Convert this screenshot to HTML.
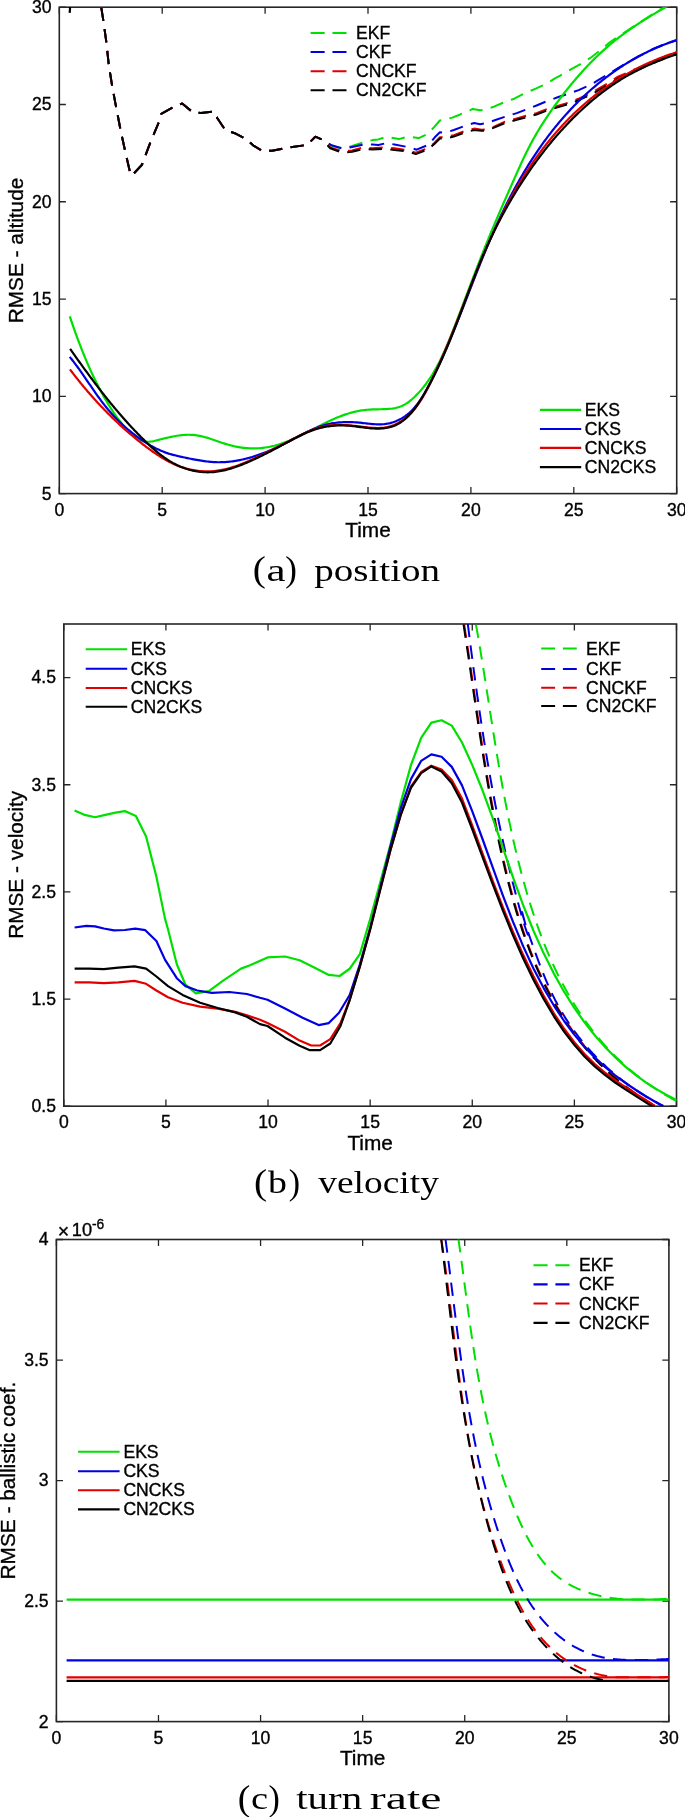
<!DOCTYPE html>
<html><head><meta charset="utf-8"><title>RMSE plots</title>
<style>
html,body{margin:0;padding:0;background:#fff;}
body{width:685px;height:1817px;overflow:hidden;}
svg{display:block;font-family:"Liberation Sans",sans-serif;will-change:transform;}
text{fill:#000;stroke:#000;stroke-width:0.35px;}
</style></head>
<body>
<svg width="685" height="1817" viewBox="0 0 685 1817">
<rect width="685" height="1817" fill="#fff"/>
<clipPath id="c1"><rect x="59.3" y="7.2" width="617.4" height="486.4"/></clipPath>
<path d="M59.3 493.6 V487 M59.3 7.2 V13.8 M162.2 493.6 V487 M162.2 7.2 V13.8 M265.1 493.6 V487 M265.1 7.2 V13.8 M368 493.6 V487 M368 7.2 V13.8 M470.9 493.6 V487 M470.9 7.2 V13.8 M573.8 493.6 V487 M573.8 7.2 V13.8 M676.7 493.6 V487 M676.7 7.2 V13.8 M59.3 493.6 H65.9 M676.7 493.6 H670.1 M59.3 396.32 H65.9 M676.7 396.32 H670.1 M59.3 299.04 H65.9 M676.7 299.04 H670.1 M59.3 201.76 H65.9 M676.7 201.76 H670.1 M59.3 104.48 H65.9 M676.7 104.48 H670.1 M59.3 7.2 H65.9 M676.7 7.2 H670.1 " stroke="#262626" stroke-width="1.3" fill="none"/>
<rect x="59.3" y="7.2" width="617.4" height="486.4" stroke="#262626" stroke-width="1.6" fill="none"/>
<text x="59.3" y="515.8" font-size="17.6" text-anchor="middle">0</text>
<text x="162.2" y="515.8" font-size="17.6" text-anchor="middle">5</text>
<text x="265.1" y="515.8" font-size="17.6" text-anchor="middle">10</text>
<text x="368" y="515.8" font-size="17.6" text-anchor="middle">15</text>
<text x="470.9" y="515.8" font-size="17.6" text-anchor="middle">20</text>
<text x="573.8" y="515.8" font-size="17.6" text-anchor="middle">25</text>
<text x="676.7" y="515.8" font-size="17.6" text-anchor="middle">30</text>
<text x="51.5" y="499.5" font-size="17.6" text-anchor="end">5</text>
<text x="51.5" y="402.22" font-size="17.6" text-anchor="end">10</text>
<text x="51.5" y="304.94" font-size="17.6" text-anchor="end">15</text>
<text x="51.5" y="207.66" font-size="17.6" text-anchor="end">20</text>
<text x="51.5" y="110.38" font-size="17.6" text-anchor="end">25</text>
<text x="51.5" y="13.1" font-size="17.6" text-anchor="end">30</text>
<text x="368" y="537.1" font-size="20.8" text-anchor="middle">Time</text>
<text transform="translate(23 250.5) rotate(-90)" font-size="20.8" text-anchor="middle">RMSE - altitude</text>
<g clip-path="url(#c1)">
<path d="M101.3 7.6 L103.4 21 L106.4 42.6 L108.7 64.2 L112.2 86.4 L116.3 108 L120.6 130.2 L125.3 151.8 L130.3 173.4 L131.8 175.6 L142 164.7 L150.1 143.1 L158.9 122 L161.2 113.9 L174 106.8 L182.2 103.5 L192.7 112.2 L200.9 112.9 L214.2 111.5 L217.2 118 L225.4 130.2 L234.7 133.2 L246.4 139.1 L253.4 145.6 L262.8 151.2 L272.1 150.7 L286.1 147.9 L307.2 144.9 L315.3 136.7 L322.6 139.9 L331.3 145.7 L339 147.4 L343.4 148.2 L352.1 146 L363.8 142.3 L372.6 140.1 L378.4 139.4 L386.4 136.8 L394.5 138.2 L398.8 139.1 L407.6 136.8 L416.4 137.7 L418.8 138.1 L427.5 134.1 L434.1 127.1 L439.9 120.5 L444.3 119.8 L452.3 117.6 L459.6 114.7 L464.7 112.5 L472.8 108.9 L480.1 110.3 L485.2 109.6 L493.9 106.7 L505 101.9 L514.2 98.7 L526 92.7 L535.2 88.8 L547 83.5 L554.9 78.3 L560.2 75.7 L566.7 71.6 L580 64.3 L591.7 57 L601.9 49 L609.2 42.8 L619.4 35.8 L641.5 21.3 L666 6 L672 2" stroke="#00e000" stroke-width="2" fill="none" stroke-linejoin="round" stroke-dasharray="13.4 8.4"/>
<path d="M101.3 7.6 L103.4 21 L106.4 42.6 L108.7 64.2 L112.2 86.4 L116.3 108 L120.6 130.2 L125.3 151.8 L130.3 173.4 L131.8 175.6 L142 164.7 L150.1 143.1 L158.9 122 L161.2 113.9 L174 106.8 L182.2 103.5 L192.7 112.2 L200.9 112.9 L214.2 111.5 L217.2 118 L225.4 130.2 L234.7 133.2 L246.4 139.1 L253.4 145.6 L262.8 151.2 L272.1 150.7 L286.1 147.9 L307.2 144.9 L315.3 136.7 L322.6 139.9 L331.7 145.3 L343.4 148.9 L352.1 147 L365.3 144.1 L372.6 144.5 L378.4 145 L386.4 143.1 L394.5 144.5 L407.6 147 L416.6 149.7 L429 144.6 L434.8 137.3 L439.9 132.2 L445 132.7 L453.8 130 L465.5 125.7 L474.2 123 L480.1 124.2 L486.6 123 L496.1 119.8 L505 116.8 L516.8 113.1 L528.7 108.5 L536.5 105.5 L548.4 100.6 L557.6 97.3 L569.4 93.4 L578.6 90.1 L590.4 84.9 L599 79.6 L609.2 73.8 L618 68 L628.2 62.1 L638.4 56.5 L653 49 L667.6 43.1 L677.5 40" stroke="#0000e0" stroke-width="2" fill="none" stroke-linejoin="round" stroke-dasharray="13.4 8.4"/>
<path d="M101.3 7.6 L103.4 21 L106.4 42.6 L108.7 64.2 L112.2 86.4 L116.3 108 L120.6 130.2 L125.3 151.8 L130.3 173.4 L131.8 175.6 L142 164.7 L150.1 143.1 L158.9 122 L161.2 113.9 L174 106.8 L182.2 103.5 L192.7 112.2 L200.9 112.9 L214.2 111.5 L217.2 118 L225.4 130.2 L234.7 133.2 L246.4 139.1 L253.4 145.6 L262.8 151.2 L272.1 150.7 L286.1 147.9 L307.2 144.9 L315.3 136.7 L322.6 139.9 L330.2 147.4 L341.9 151.1 L352.1 150.4 L363.8 147.4 L372.6 148.2 L384.2 147.4 L394.5 148.2 L407.6 150.4 L415.8 152.7 L427.5 148.3 L434.1 143.2 L439.9 137.3 L445 137.3 L453.8 135.1 L465.5 130.8 L474.2 128.6 L481.5 129.7 L486.6 129.3 L494.7 126.4 L505 121.6 L516.8 118.4 L528.7 115.1 L536.5 113.1 L548.4 108.5 L557.6 105.9 L570.7 101.9 L578.6 98.7 L590.4 93.4 L599 88.4 L609.2 82.6 L618 76.7 L628.2 72.3 L638.4 67.8 L653 61.4 L667.6 55.5 L677.5 51.8" stroke="#e00000" stroke-width="2" fill="none" stroke-linejoin="round" stroke-dasharray="13.4 8.4"/>
<path d="M101.3 7.6 L103.4 21 L106.4 42.6 L108.7 64.2 L112.2 86.4 L116.3 108 L120.6 130.2 L125.3 151.8 L130.3 173.4 L131.8 175.6 L142 164.7 L150.1 143.1 L158.9 122 L161.2 113.9 L174 106.8 L182.2 103.5 L192.7 112.2 L200.9 112.9 L214.2 111.5 L217.2 118 L225.4 130.2 L234.7 133.2 L246.4 139.1 L253.4 145.6 L262.8 151.2 L272.1 150.7 L286.1 147.9 L307.2 144.9 L315.3 136.7 L322.6 139.9 L330.2 148.2 L341.9 152.6 L352.1 151.8 L363.8 148.9 L372.6 149.6 L384.2 148.9 L394.5 149.9 L407.6 151.4 L415.8 154.1 L427.5 149.5 L434.1 144.3 L439.9 138.5 L445 138.5 L453.8 136.6 L465.5 132.2 L474.2 130 L481.5 130.8 L486.6 130.5 L494.7 127.4 L505 123 L516.8 119.8 L528.7 116.5 L536.5 114.5 L548.4 110 L557.6 107.4 L570.7 103.4 L578.6 100.2 L590.4 95 L599 90 L609.2 84.2 L618 78.5 L628.2 74 L638.4 69.5 L653 63 L667.6 57 L677.5 54" stroke="#000000" stroke-width="2" fill="none" stroke-linejoin="round" stroke-dasharray="13.4 8.4"/>
<path d="M69.75 316.3 L70.22 317.72 L70.7 319.13 L71.18 320.55 L71.66 321.96 L72.15 323.38 L72.64 324.79 L73.13 326.21 L73.62 327.62 L74.12 329.04 L74.62 330.45 L75.13 331.87 L75.64 333.28 L76.15 334.7 L76.66 336.11 L77.18 337.52 L77.71 338.93 L78.23 340.34 L78.76 341.75 L79.3 343.16 L79.84 344.57 L80.38 345.97 L80.92 347.38 L81.47 348.78 L82.03 350.18 L82.59 351.58 L83.15 352.98 L83.72 354.38 L84.29 355.77 L84.86 357.17 L85.44 358.56 L86.03 359.95 L86.61 361.33 L87.21 362.72 L87.81 364.1 L88.41 365.48 L89.02 366.86 L89.63 368.24 L90.25 369.61 L90.87 370.98 L91.5 372.35 L92.13 373.71 L92.77 375.07 L93.41 376.43 L94.06 377.79 L94.71 379.14 L95.37 380.49 L96.03 381.83 L96.7 383.18 L97.38 384.51 L98.06 385.85 L98.74 387.18 L99.44 388.51 L100.13 389.83 L100.84 391.15 L101.55 392.47 L102.26 393.78 L102.98 395.09 L103.71 396.4 L104.44 397.7 L105.18 398.99 L105.93 400.28 L106.68 401.57 L107.44 402.85 L108.21 404.13 L108.99 405.4 L109.77 406.67 L110.57 407.93 L111.37 409.19 L112.19 410.44 L113.02 411.69 L113.85 412.93 L114.71 414.16 L115.57 415.4 L116.45 416.62 L117.34 417.84 L118.24 419.06 L119.16 420.26 L120.1 421.47 L121.05 422.66 L122.02 423.85 L123.01 425.04 L124.02 426.22 L125.04 427.39 L126.08 428.56 L127.14 429.71 L128.23 430.86 L129.33 431.99 L130.45 433.09 L131.59 434.16 L132.75 435.19 L133.93 436.16 L135.13 437.08 L136.35 437.94 L137.59 438.72 L138.86 439.43 L140.14 440.05 L141.44 440.57 L142.75 441 L144.09 441.33 L145.44 441.57 L146.81 441.7 L148.19 441.73 L149.58 441.67 L150.98 441.53 L152.39 441.32 L153.81 441.05 L155.23 440.73 L156.67 440.38 L158.11 440.01 L159.56 439.64 L161.02 439.26 L162.48 438.89 L163.95 438.52 L165.42 438.16 L166.9 437.81 L168.38 437.47 L169.86 437.14 L171.34 436.82 L172.83 436.52 L174.32 436.23 L175.81 435.97 L177.31 435.72 L178.8 435.5 L180.29 435.3 L181.79 435.13 L183.28 434.99 L184.77 434.88 L186.26 434.8 L187.74 434.76 L189.22 434.75 L190.7 434.78 L192.18 434.85 L193.65 434.97 L195.12 435.12 L196.58 435.32 L198.03 435.55 L199.49 435.83 L200.94 436.13 L202.39 436.47 L203.83 436.83 L205.27 437.22 L206.71 437.63 L208.15 438.07 L209.59 438.52 L211.03 438.98 L212.47 439.46 L213.91 439.95 L215.34 440.44 L216.78 440.94 L218.22 441.44 L219.67 441.94 L221.11 442.43 L222.56 442.92 L224.01 443.4 L225.46 443.87 L226.92 444.32 L228.38 444.75 L229.84 445.17 L231.31 445.56 L232.79 445.93 L234.27 446.27 L235.75 446.59 L237.24 446.88 L238.73 447.15 L240.23 447.39 L241.73 447.61 L243.23 447.8 L244.73 447.96 L246.23 448.1 L247.73 448.21 L249.23 448.3 L250.74 448.36 L252.24 448.39 L253.74 448.4 L255.24 448.38 L256.73 448.33 L258.23 448.26 L259.72 448.17 L261.21 448.04 L262.69 447.89 L264.17 447.71 L265.64 447.5 L267.11 447.27 L268.57 447.01 L270.03 446.73 L271.48 446.42 L272.93 446.08 L274.37 445.73 L275.81 445.34 L277.24 444.94 L278.67 444.52 L280.09 444.07 L281.51 443.61 L282.92 443.13 L284.33 442.63 L285.73 442.11 L287.13 441.57 L288.53 441.02 L289.92 440.46 L291.3 439.88 L292.69 439.29 L294.06 438.68 L295.44 438.07 L296.81 437.44 L298.18 436.8 L299.54 436.16 L300.9 435.5 L302.26 434.84 L303.61 434.17 L304.96 433.49 L306.3 432.81 L307.65 432.12 L308.99 431.43 L310.33 430.74 L311.66 430.05 L313 429.35 L314.33 428.65 L315.66 427.96 L316.99 427.26 L318.33 426.57 L319.66 425.88 L320.99 425.19 L322.33 424.51 L323.66 423.83 L325 423.16 L326.34 422.5 L327.69 421.84 L329.03 421.19 L330.38 420.55 L331.74 419.93 L333.1 419.31 L334.46 418.7 L335.83 418.11 L337.21 417.53 L338.59 416.97 L339.97 416.42 L341.37 415.88 L342.77 415.37 L344.18 414.87 L345.59 414.39 L347.02 413.92 L348.45 413.48 L349.88 413.06 L351.32 412.65 L352.77 412.27 L354.23 411.91 L355.69 411.57 L357.15 411.26 L358.62 410.96 L360.1 410.69 L361.59 410.45 L363.07 410.23 L364.57 410.04 L366.07 409.87 L367.57 409.73 L369.08 409.62 L370.59 409.53 L372.11 409.46 L373.63 409.41 L375.15 409.37 L376.68 409.33 L378.21 409.3 L379.74 409.27 L381.27 409.24 L382.8 409.2 L384.33 409.15 L385.86 409.09 L387.38 409 L388.91 408.89 L390.42 408.75 L391.92 408.58 L393.41 408.36 L394.89 408.1 L396.34 407.79 L397.77 407.42 L399.18 406.99 L400.56 406.5 L401.91 405.94 L403.23 405.31 L404.52 404.62 L405.79 403.88 L407.03 403.09 L408.24 402.25 L409.43 401.36 L410.6 400.44 L411.74 399.48 L412.86 398.49 L413.97 397.48 L415.05 396.44 L416.11 395.38 L417.16 394.31 L418.19 393.23 L419.2 392.13 L420.19 391.02 L421.17 389.89 L422.13 388.76 L423.07 387.61 L424 386.45 L424.92 385.27 L425.82 384.09 L426.7 382.89 L427.57 381.69 L428.43 380.47 L429.27 379.24 L430.09 378.01 L430.91 376.76 L431.71 375.5 L432.5 374.24 L433.28 372.96 L434.04 371.68 L434.8 370.38 L435.54 369.08 L436.27 367.78 L436.99 366.46 L437.7 365.14 L438.4 363.81 L439.1 362.47 L439.78 361.13 L440.45 359.78 L441.11 358.42 L441.77 357.06 L442.41 355.7 L443.05 354.33 L443.68 352.95 L444.31 351.57 L444.93 350.19 L445.54 348.8 L446.14 347.41 L446.74 346.01 L447.33 344.61 L447.92 343.21 L448.5 341.81 L449.08 340.4 L449.65 338.99 L450.22 337.58 L450.79 336.17 L451.35 334.76 L451.91 333.35 L452.46 331.93 L453.02 330.52 L453.57 329.1 L454.12 327.69 L454.66 326.28 L455.21 324.86 L455.76 323.45 L456.3 322.04 L456.84 320.63 L457.38 319.22 L457.92 317.81 L458.46 316.4 L459 314.99 L459.54 313.58 L460.07 312.18 L460.61 310.77 L461.14 309.36 L461.67 307.96 L462.21 306.55 L462.74 305.15 L463.27 303.75 L463.8 302.34 L464.33 300.94 L464.86 299.54 L465.39 298.13 L465.92 296.73 L466.45 295.33 L466.98 293.93 L467.51 292.53 L468.04 291.13 L468.57 289.73 L469.09 288.33 L469.62 286.94 L470.15 285.54 L470.68 284.14 L471.21 282.74 L471.74 281.35 L472.27 279.95 L472.8 278.55 L473.33 277.16 L473.87 275.76 L474.4 274.37 L474.93 272.97 L475.47 271.58 L476 270.18 L476.54 268.79 L477.07 267.4 L477.61 266 L478.15 264.61 L478.69 263.22 L479.23 261.83 L479.77 260.43 L480.32 259.04 L480.86 257.65 L481.41 256.26 L481.95 254.87 L482.5 253.48 L483.05 252.09 L483.61 250.7 L484.16 249.31 L484.71 247.92 L485.27 246.53 L485.83 245.14 L486.39 243.75 L486.95 242.36 L487.52 240.97 L488.09 239.58 L488.65 238.19 L489.23 236.8 L489.8 235.41 L490.37 234.03 L490.95 232.64 L491.53 231.25 L492.11 229.86 L492.69 228.47 L493.27 227.09 L493.86 225.7 L494.45 224.31 L495.03 222.93 L495.62 221.54 L496.21 220.15 L496.81 218.77 L497.4 217.38 L497.99 216 L498.59 214.61 L499.19 213.23 L499.79 211.84 L500.38 210.46 L500.98 209.07 L501.59 207.69 L502.19 206.31 L502.79 204.92 L503.39 203.54 L504 202.16 L504.6 200.78 L505.21 199.39 L505.81 198.01 L506.42 196.63 L507.03 195.25 L507.63 193.87 L508.24 192.49 L508.85 191.11 L509.46 189.73 L510.06 188.35 L510.67 186.98 L511.28 185.6 L511.89 184.22 L512.5 182.85 L513.11 181.47 L513.71 180.09 L514.32 178.72 L514.93 177.34 L515.54 175.97 L516.15 174.6 L516.76 173.23 L517.37 171.85 L517.98 170.48 L518.59 169.12 L519.21 167.75 L519.83 166.38 L520.45 165.02 L521.07 163.66 L521.7 162.3 L522.33 160.94 L522.96 159.58 L523.6 158.23 L524.24 156.88 L524.89 155.53 L525.54 154.18 L526.2 152.84 L526.86 151.5 L527.53 150.16 L528.21 148.82 L528.89 147.49 L529.57 146.16 L530.27 144.84 L530.97 143.52 L531.68 142.2 L532.39 140.88 L533.11 139.57 L533.84 138.27 L534.58 136.96 L535.32 135.66 L536.07 134.36 L536.82 133.07 L537.58 131.78 L538.35 130.49 L539.12 129.21 L539.9 127.93 L540.69 126.65 L541.48 125.38 L542.28 124.11 L543.08 122.84 L543.89 121.58 L544.71 120.32 L545.53 119.06 L546.36 117.81 L547.19 116.56 L548.03 115.32 L548.87 114.07 L549.72 112.83 L550.57 111.6 L551.43 110.36 L552.3 109.13 L553.17 107.91 L554.04 106.69 L554.92 105.47 L555.8 104.25 L556.69 103.04 L557.58 101.83 L558.48 100.62 L559.38 99.42 L560.29 98.22 L561.2 97.02 L562.12 95.83 L563.04 94.64 L563.96 93.45 L564.89 92.27 L565.82 91.09 L566.76 89.91 L567.69 88.74 L568.64 87.57 L569.59 86.4 L570.54 85.23 L571.49 84.07 L572.45 82.92 L573.42 81.77 L574.38 80.62 L575.36 79.47 L576.33 78.33 L577.31 77.19 L578.3 76.06 L579.29 74.93 L580.28 73.81 L581.28 72.69 L582.29 71.57 L583.29 70.46 L584.31 69.36 L585.33 68.26 L586.35 67.16 L587.38 66.07 L588.41 64.98 L589.45 63.9 L590.49 62.83 L591.54 61.76 L592.59 60.69 L593.65 59.63 L594.71 58.58 L595.78 57.53 L596.86 56.49 L597.94 55.45 L599.03 54.42 L600.12 53.4 L601.21 52.38 L602.32 51.37 L603.43 50.36 L604.54 49.36 L605.66 48.37 L606.79 47.38 L607.92 46.41 L609.06 45.43 L610.2 44.47 L611.35 43.51 L612.51 42.56 L613.67 41.61 L614.84 40.67 L616.01 39.74 L617.19 38.82 L618.38 37.9 L619.57 36.98 L620.76 36.08 L621.96 35.17 L623.17 34.28 L624.38 33.39 L625.6 32.51 L626.81 31.63 L628.04 30.76 L629.27 29.89 L630.5 29.03 L631.74 28.17 L632.98 27.32 L634.22 26.48 L635.47 25.64 L636.72 24.8 L637.98 23.97 L639.24 23.15 L640.5 22.33 L641.77 21.51 L643.04 20.7 L644.31 19.89 L645.58 19.09 L646.86 18.29 L648.14 17.5 L649.42 16.71 L650.71 15.92 L652 15.14 L653.29 14.36 L654.58 13.59 L655.87 12.82 L657.17 12.05 L658.47 11.29 L659.77 10.53 L661.07 9.77 L662.37 9.02 L663.67 8.27 L664.98 7.52 L666.29 6.77 L667.59 6.03 L668.9 5.29 L670.21 4.56 L671.52 3.82 L672.83 3.09 L674.14 2.36 L675.45 1.64 L676.76 0.91 L678.07 0.19 L679.38 -0.53 L680.69 -1.25 L682.01 -1.96" stroke="#00e000" stroke-width="2.2" fill="none" stroke-linejoin="round"/>
<path d="M69.75 356.91 L70.71 358.09 L71.66 359.28 L72.6 360.47 L73.53 361.67 L74.45 362.87 L75.37 364.08 L76.27 365.29 L77.17 366.51 L78.06 367.73 L78.94 368.95 L79.81 370.17 L80.68 371.4 L81.55 372.63 L82.41 373.86 L83.27 375.1 L84.12 376.33 L84.97 377.57 L85.81 378.81 L86.66 380.04 L87.5 381.28 L88.35 382.52 L89.19 383.76 L90.03 384.99 L90.87 386.23 L91.72 387.46 L92.56 388.69 L93.41 389.92 L94.26 391.15 L95.12 392.38 L95.97 393.6 L96.84 394.82 L97.7 396.04 L98.58 397.25 L99.46 398.46 L100.34 399.66 L101.23 400.86 L102.13 402.05 L103.04 403.24 L103.96 404.42 L104.88 405.6 L105.82 406.77 L106.77 407.93 L107.72 409.09 L108.69 410.24 L109.67 411.38 L110.66 412.52 L111.66 413.65 L112.68 414.77 L113.71 415.88 L114.74 416.98 L115.79 418.07 L116.85 419.16 L117.92 420.23 L119 421.3 L120.09 422.35 L121.19 423.4 L122.3 424.44 L123.41 425.46 L124.54 426.48 L125.68 427.49 L126.82 428.48 L127.97 429.47 L129.13 430.44 L130.3 431.4 L131.48 432.36 L132.66 433.3 L133.85 434.22 L135.05 435.14 L136.25 436.04 L137.47 436.93 L138.68 437.81 L139.91 438.68 L141.14 439.53 L142.37 440.37 L143.61 441.2 L144.86 442.01 L146.11 442.81 L147.37 443.59 L148.63 444.36 L149.9 445.11 L151.18 445.85 L152.46 446.57 L153.75 447.26 L155.06 447.95 L156.37 448.61 L157.69 449.25 L159.01 449.87 L160.35 450.47 L161.7 451.04 L163.06 451.6 L164.43 452.13 L165.81 452.64 L167.21 453.12 L168.61 453.58 L170.03 454.01 L171.46 454.42 L172.9 454.82 L174.35 455.19 L175.81 455.55 L177.27 455.9 L178.74 456.24 L180.22 456.57 L181.7 456.89 L183.19 457.21 L184.68 457.52 L186.17 457.83 L187.67 458.15 L189.17 458.46 L190.67 458.76 L192.18 459.07 L193.68 459.36 L195.19 459.65 L196.7 459.93 L198.2 460.2 L199.71 460.45 L201.22 460.7 L202.73 460.93 L204.24 461.15 L205.75 461.35 L207.25 461.53 L208.76 461.7 L210.26 461.84 L211.77 461.96 L213.27 462.07 L214.77 462.14 L216.26 462.2 L217.76 462.23 L219.25 462.23 L220.74 462.22 L222.22 462.18 L223.71 462.12 L225.19 462.03 L226.67 461.93 L228.15 461.8 L229.62 461.66 L231.09 461.49 L232.56 461.3 L234.03 461.1 L235.49 460.87 L236.95 460.63 L238.41 460.36 L239.87 460.08 L241.32 459.78 L242.77 459.46 L244.22 459.13 L245.66 458.77 L247.11 458.41 L248.55 458.02 L249.98 457.62 L251.42 457.2 L252.85 456.77 L254.28 456.33 L255.7 455.87 L257.13 455.39 L258.55 454.9 L259.97 454.4 L261.38 453.89 L262.79 453.36 L264.2 452.82 L265.61 452.27 L267.01 451.71 L268.41 451.13 L269.81 450.55 L271.2 449.95 L272.59 449.35 L273.98 448.73 L275.37 448.11 L276.75 447.47 L278.13 446.83 L279.5 446.18 L280.88 445.52 L282.25 444.85 L283.61 444.18 L284.98 443.5 L286.34 442.81 L287.7 442.11 L289.05 441.42 L290.4 440.71 L291.75 440 L293.09 439.29 L294.44 438.57 L295.78 437.85 L297.12 437.14 L298.46 436.42 L299.8 435.71 L301.14 435.01 L302.48 434.31 L303.82 433.62 L305.17 432.94 L306.51 432.26 L307.86 431.6 L309.21 430.95 L310.56 430.32 L311.92 429.7 L313.29 429.1 L314.65 428.52 L316.03 427.96 L317.4 427.42 L318.79 426.9 L320.18 426.41 L321.58 425.94 L322.99 425.5 L324.4 425.09 L325.82 424.7 L327.26 424.35 L328.69 424.02 L330.14 423.72 L331.59 423.44 L333.05 423.2 L334.52 422.97 L335.99 422.78 L337.47 422.61 L338.95 422.46 L340.44 422.34 L341.93 422.24 L343.43 422.16 L344.93 422.11 L346.43 422.08 L347.94 422.07 L349.45 422.08 L350.96 422.12 L352.48 422.17 L354 422.24 L355.52 422.33 L357.04 422.45 L358.56 422.58 L360.08 422.72 L361.61 422.88 L363.13 423.05 L364.65 423.23 L366.17 423.41 L367.7 423.58 L369.22 423.75 L370.74 423.91 L372.25 424.05 L373.77 424.17 L375.28 424.27 L376.79 424.34 L378.3 424.38 L379.81 424.38 L381.31 424.35 L382.8 424.26 L384.29 424.13 L385.78 423.95 L387.26 423.71 L388.74 423.41 L390.2 423.07 L391.65 422.67 L393.08 422.23 L394.5 421.73 L395.89 421.2 L397.27 420.61 L398.61 419.99 L399.93 419.32 L401.22 418.62 L402.48 417.88 L403.7 417.1 L404.9 416.29 L406.07 415.44 L407.22 414.56 L408.33 413.65 L409.42 412.71 L410.49 411.73 L411.53 410.73 L412.55 409.7 L413.54 408.64 L414.51 407.56 L415.46 406.45 L416.4 405.32 L417.31 404.16 L418.2 402.99 L419.07 401.79 L419.93 400.58 L420.77 399.34 L421.6 398.09 L422.41 396.83 L423.2 395.55 L423.98 394.25 L424.75 392.95 L425.51 391.63 L426.26 390.3 L426.99 388.96 L427.72 387.61 L428.44 386.26 L429.15 384.9 L429.85 383.53 L430.54 382.16 L431.23 380.79 L431.92 379.42 L432.6 378.04 L433.28 376.67 L433.95 375.29 L434.62 373.91 L435.28 372.53 L435.94 371.15 L436.6 369.77 L437.25 368.39 L437.9 367.01 L438.54 365.63 L439.18 364.24 L439.82 362.86 L440.45 361.47 L441.09 360.09 L441.71 358.7 L442.34 357.31 L442.96 355.93 L443.57 354.54 L444.19 353.15 L444.8 351.76 L445.41 350.37 L446.01 348.98 L446.62 347.59 L447.22 346.2 L447.81 344.8 L448.41 343.41 L449 342.02 L449.59 340.62 L450.18 339.23 L450.76 337.84 L451.35 336.44 L451.93 335.05 L452.5 333.65 L453.08 332.25 L453.65 330.86 L454.23 329.46 L454.8 328.07 L455.36 326.67 L455.93 325.27 L456.5 323.87 L457.06 322.48 L457.62 321.08 L458.18 319.68 L458.74 318.28 L459.3 316.88 L459.85 315.49 L460.41 314.09 L460.96 312.69 L461.52 311.29 L462.07 309.89 L462.62 308.49 L463.17 307.09 L463.72 305.7 L464.27 304.3 L464.81 302.9 L465.36 301.5 L465.91 300.1 L466.45 298.7 L467 297.3 L467.55 295.91 L468.09 294.51 L468.64 293.11 L469.18 291.71 L469.72 290.32 L470.27 288.92 L470.81 287.52 L471.36 286.13 L471.9 284.73 L472.45 283.33 L473 281.94 L473.54 280.54 L474.09 279.15 L474.64 277.75 L475.18 276.36 L475.73 274.97 L476.28 273.57 L476.83 272.18 L477.38 270.79 L477.93 269.4 L478.49 268.01 L479.04 266.61 L479.6 265.22 L480.15 263.83 L480.71 262.45 L481.27 261.06 L481.83 259.67 L482.39 258.28 L482.95 256.9 L483.52 255.51 L484.09 254.12 L484.65 252.74 L485.22 251.36 L485.8 249.97 L486.37 248.59 L486.95 247.21 L487.53 245.83 L488.11 244.45 L488.69 243.07 L489.27 241.69 L489.86 240.32 L490.45 238.94 L491.04 237.56 L491.64 236.19 L492.24 234.82 L492.84 233.44 L493.44 232.07 L494.04 230.7 L494.65 229.33 L495.26 227.96 L495.88 226.6 L496.5 225.23 L497.12 223.87 L497.74 222.5 L498.37 221.14 L499 219.78 L499.63 218.42 L500.27 217.06 L500.91 215.7 L501.56 214.34 L502.21 212.99 L502.86 211.63 L503.51 210.28 L504.17 208.93 L504.84 207.58 L505.5 206.23 L506.17 204.88 L506.85 203.54 L507.53 202.19 L508.21 200.85 L508.89 199.51 L509.58 198.17 L510.28 196.84 L510.97 195.5 L511.68 194.17 L512.38 192.84 L513.09 191.51 L513.8 190.18 L514.52 188.86 L515.24 187.54 L515.97 186.22 L516.69 184.9 L517.43 183.58 L518.17 182.27 L518.91 180.96 L519.65 179.65 L520.4 178.34 L521.16 177.04 L521.91 175.74 L522.68 174.44 L523.44 173.14 L524.21 171.85 L524.99 170.56 L525.77 169.27 L526.55 167.99 L527.34 166.7 L528.13 165.42 L528.93 164.15 L529.73 162.87 L530.54 161.6 L531.35 160.34 L532.16 159.07 L532.98 157.81 L533.81 156.55 L534.64 155.3 L535.47 154.05 L536.31 152.8 L537.15 151.55 L538 150.31 L538.85 149.07 L539.7 147.84 L540.56 146.61 L541.43 145.38 L542.3 144.16 L543.18 142.94 L544.06 141.72 L544.94 140.51 L545.83 139.3 L546.73 138.09 L547.63 136.89 L548.53 135.69 L549.44 134.5 L550.36 133.31 L551.27 132.13 L552.2 130.94 L553.13 129.77 L554.06 128.59 L555 127.43 L555.95 126.26 L556.9 125.1 L557.85 123.95 L558.81 122.79 L559.78 121.65 L560.75 120.51 L561.72 119.37 L562.71 118.23 L563.69 117.11 L564.68 115.98 L565.68 114.86 L566.68 113.75 L567.69 112.64 L568.7 111.53 L569.72 110.43 L570.75 109.34 L571.77 108.25 L572.81 107.16 L573.85 106.08 L574.89 105.01 L575.95 103.94 L577 102.87 L578.07 101.81 L579.13 100.76 L580.21 99.71 L581.29 98.67 L582.37 97.63 L583.46 96.6 L584.56 95.57 L585.66 94.55 L586.77 93.53 L587.88 92.52 L589 91.52 L590.12 90.52 L591.25 89.53 L592.38 88.54 L593.52 87.56 L594.67 86.59 L595.82 85.62 L596.97 84.66 L598.13 83.7 L599.3 82.75 L600.47 81.81 L601.65 80.87 L602.83 79.94 L604.02 79.02 L605.21 78.1 L606.4 77.19 L607.61 76.29 L608.81 75.39 L610.02 74.5 L611.24 73.62 L612.46 72.74 L613.69 71.88 L614.92 71.02 L616.16 70.16 L617.4 69.31 L618.65 68.48 L619.9 67.64 L621.15 66.82 L622.41 66 L623.68 65.19 L624.95 64.39 L626.22 63.6 L627.5 62.81 L628.79 62.03 L630.08 61.26 L631.37 60.5 L632.67 59.74 L633.97 59 L635.28 58.26 L636.59 57.53 L637.9 56.81 L639.22 56.09 L640.55 55.39 L641.88 54.69 L643.21 54 L644.55 53.32 L645.89 52.65 L647.24 51.99 L648.59 51.34 L649.94 50.69 L651.3 50.06 L652.67 49.43 L654.03 48.81 L655.41 48.2 L656.78 47.6 L658.16 47.01 L659.54 46.43 L660.93 45.86 L662.32 45.3 L663.72 44.74 L665.12 44.2 L666.52 43.66 L667.93 43.14 L669.34 42.62 L670.76 42.12 L672.18 41.62 L673.6 41.14 L675.03 40.66 L676.46 40.2 L677.89 39.74" stroke="#0000e0" stroke-width="2.2" fill="none" stroke-linejoin="round"/>
<path d="M69.96 369.34 L70.87 370.55 L71.78 371.76 L72.7 372.96 L73.61 374.16 L74.54 375.35 L75.46 376.55 L76.39 377.73 L77.33 378.92 L78.27 380.1 L79.21 381.27 L80.15 382.45 L81.1 383.61 L82.06 384.78 L83.02 385.94 L83.98 387.1 L84.94 388.25 L85.91 389.4 L86.89 390.55 L87.86 391.69 L88.85 392.83 L89.83 393.96 L90.82 395.09 L91.82 396.22 L92.81 397.34 L93.81 398.46 L94.82 399.57 L95.83 400.68 L96.84 401.79 L97.86 402.89 L98.89 403.99 L99.91 405.08 L100.94 406.17 L101.98 407.26 L103.02 408.34 L104.06 409.42 L105.1 410.49 L106.16 411.56 L107.21 412.63 L108.27 413.69 L109.33 414.75 L110.4 415.8 L111.47 416.85 L112.55 417.9 L113.63 418.94 L114.71 419.98 L115.8 421.01 L116.89 422.04 L117.99 423.06 L119.09 424.08 L120.19 425.1 L121.3 426.11 L122.42 427.12 L123.54 428.12 L124.66 429.12 L125.78 430.12 L126.91 431.11 L128.05 432.09 L129.19 433.08 L130.33 434.05 L131.48 435.03 L132.63 436 L133.79 436.96 L134.95 437.92 L136.11 438.88 L137.28 439.83 L138.45 440.77 L139.63 441.72 L140.81 442.66 L142 443.59 L143.19 444.52 L144.38 445.44 L145.58 446.36 L146.79 447.28 L147.99 448.18 L149.21 449.09 L150.43 449.98 L151.65 450.86 L152.88 451.74 L154.12 452.6 L155.36 453.46 L156.61 454.3 L157.87 455.13 L159.13 455.95 L160.4 456.75 L161.67 457.54 L162.96 458.32 L164.25 459.08 L165.55 459.82 L166.86 460.55 L168.17 461.26 L169.5 461.95 L170.83 462.62 L172.17 463.27 L173.52 463.9 L174.88 464.51 L176.25 465.1 L177.63 465.66 L179.02 466.2 L180.42 466.72 L181.83 467.21 L183.25 467.67 L184.69 468.11 L186.13 468.53 L187.58 468.91 L189.04 469.27 L190.51 469.6 L191.99 469.9 L193.48 470.17 L194.97 470.42 L196.47 470.64 L197.97 470.83 L199.47 470.99 L200.98 471.12 L202.49 471.22 L204 471.3 L205.51 471.34 L207.02 471.36 L208.53 471.35 L210.04 471.31 L211.54 471.23 L213.04 471.13 L214.54 471 L216.03 470.84 L217.51 470.65 L218.99 470.43 L220.46 470.18 L221.93 469.91 L223.39 469.61 L224.85 469.29 L226.31 468.95 L227.76 468.58 L229.2 468.19 L230.64 467.78 L232.07 467.35 L233.5 466.9 L234.93 466.43 L236.35 465.95 L237.77 465.45 L239.18 464.93 L240.58 464.4 L241.99 463.85 L243.39 463.29 L244.78 462.72 L246.17 462.14 L247.56 461.54 L248.94 460.94 L250.32 460.33 L251.7 459.71 L253.07 459.09 L254.43 458.45 L255.8 457.82 L257.16 457.18 L258.51 456.53 L259.87 455.88 L261.22 455.23 L262.56 454.58 L263.91 453.92 L265.25 453.26 L266.59 452.6 L267.93 451.94 L269.26 451.27 L270.6 450.6 L271.93 449.92 L273.26 449.25 L274.6 448.57 L275.93 447.89 L277.26 447.2 L278.59 446.52 L279.92 445.83 L281.26 445.14 L282.59 444.44 L283.92 443.75 L285.26 443.05 L286.6 442.35 L287.94 441.64 L289.28 440.94 L290.63 440.23 L291.97 439.52 L293.32 438.81 L294.68 438.11 L296.03 437.4 L297.39 436.7 L298.75 436.01 L300.12 435.33 L301.49 434.65 L302.86 433.99 L304.23 433.34 L305.61 432.7 L307 432.08 L308.38 431.48 L309.78 430.89 L311.17 430.32 L312.57 429.78 L313.98 429.26 L315.39 428.76 L316.8 428.29 L318.22 427.85 L319.64 427.43 L321.07 427.05 L322.5 426.7 L323.94 426.38 L325.38 426.1 L326.83 425.85 L328.29 425.63 L329.74 425.45 L331.21 425.29 L332.68 425.17 L334.15 425.07 L335.63 425 L337.11 424.95 L338.59 424.93 L340.08 424.93 L341.58 424.95 L343.07 424.99 L344.57 425.05 L346.08 425.13 L347.59 425.22 L349.1 425.33 L350.61 425.46 L352.13 425.6 L353.65 425.75 L355.17 425.91 L356.7 426.08 L358.23 426.25 L359.76 426.44 L361.29 426.63 L362.83 426.82 L364.36 427 L365.89 427.18 L367.43 427.36 L368.96 427.51 L370.48 427.65 L372.01 427.78 L373.53 427.87 L375.04 427.94 L376.55 427.98 L378.05 427.99 L379.54 427.96 L381.03 427.89 L382.5 427.77 L383.97 427.6 L385.42 427.39 L386.86 427.12 L388.29 426.8 L389.71 426.42 L391.1 426 L392.49 425.53 L393.85 425.01 L395.19 424.45 L396.51 423.84 L397.81 423.2 L399.08 422.51 L400.32 421.79 L401.54 421.02 L402.73 420.23 L403.9 419.4 L405.04 418.53 L406.16 417.64 L407.25 416.71 L408.33 415.75 L409.37 414.76 L410.4 413.74 L411.4 412.7 L412.39 411.63 L413.35 410.53 L414.3 409.41 L415.22 408.27 L416.13 407.1 L417.02 405.92 L417.9 404.71 L418.75 403.48 L419.6 402.24 L420.42 400.98 L421.23 399.7 L422.03 398.41 L422.82 397.1 L423.59 395.78 L424.35 394.45 L425.1 393.1 L425.84 391.75 L426.57 390.39 L427.29 389.02 L428.01 387.64 L428.71 386.26 L429.4 384.88 L430.09 383.48 L430.78 382.09 L431.45 380.7 L432.13 379.3 L432.8 377.9 L433.46 376.51 L434.12 375.11 L434.77 373.71 L435.42 372.32 L436.07 370.92 L436.71 369.52 L437.35 368.13 L437.99 366.73 L438.62 365.33 L439.24 363.94 L439.87 362.54 L440.49 361.14 L441.1 359.74 L441.72 358.35 L442.33 356.95 L442.93 355.55 L443.54 354.16 L444.14 352.76 L444.73 351.36 L445.33 349.96 L445.92 348.57 L446.51 347.17 L447.09 345.77 L447.68 344.38 L448.26 342.98 L448.84 341.58 L449.41 340.19 L449.98 338.79 L450.56 337.39 L451.12 336 L451.69 334.6 L452.26 333.21 L452.82 331.81 L453.38 330.41 L453.94 329.02 L454.5 327.62 L455.05 326.23 L455.61 324.83 L456.16 323.44 L456.71 322.05 L457.26 320.65 L457.81 319.26 L458.36 317.86 L458.91 316.47 L459.46 315.08 L460 313.68 L460.55 312.29 L461.09 310.9 L461.63 309.51 L462.18 308.11 L462.72 306.72 L463.26 305.33 L463.8 303.94 L464.34 302.55 L464.88 301.16 L465.42 299.77 L465.97 298.38 L466.51 296.99 L467.05 295.6 L467.59 294.21 L468.13 292.82 L468.67 291.44 L469.22 290.05 L469.76 288.66 L470.3 287.28 L470.85 285.89 L471.39 284.5 L471.94 283.12 L472.49 281.73 L473.03 280.35 L473.58 278.96 L474.13 277.58 L474.68 276.2 L475.24 274.82 L475.79 273.43 L476.35 272.05 L476.91 270.67 L477.46 269.29 L478.03 267.91 L478.59 266.53 L479.15 265.15 L479.72 263.77 L480.29 262.4 L480.86 261.02 L481.43 259.64 L482.01 258.27 L482.58 256.89 L483.16 255.52 L483.75 254.14 L484.33 252.77 L484.92 251.4 L485.51 250.02 L486.1 248.65 L486.7 247.28 L487.3 245.91 L487.9 244.54 L488.51 243.17 L489.12 241.8 L489.73 240.44 L490.34 239.07 L490.96 237.7 L491.59 236.34 L492.21 234.97 L492.84 233.61 L493.47 232.25 L494.11 230.88 L494.75 229.52 L495.4 228.16 L496.04 226.8 L496.7 225.45 L497.35 224.09 L498.01 222.74 L498.67 221.38 L499.34 220.03 L500.01 218.68 L500.68 217.33 L501.36 215.98 L502.04 214.63 L502.73 213.29 L503.42 211.95 L504.11 210.61 L504.81 209.27 L505.51 207.93 L506.21 206.59 L506.92 205.26 L507.64 203.93 L508.35 202.6 L509.08 201.27 L509.8 199.94 L510.53 198.62 L511.26 197.3 L512 195.98 L512.75 194.66 L513.49 193.35 L514.24 192.03 L515 190.72 L515.76 189.42 L516.52 188.11 L517.29 186.81 L518.06 185.51 L518.84 184.22 L519.62 182.92 L520.4 181.63 L521.19 180.34 L521.99 179.06 L522.79 177.78 L523.59 176.5 L524.4 175.22 L525.21 173.95 L526.03 172.68 L526.85 171.41 L527.67 170.15 L528.5 168.89 L529.34 167.63 L530.18 166.38 L531.02 165.13 L531.87 163.89 L532.73 162.64 L533.59 161.4 L534.45 160.17 L535.32 158.94 L536.19 157.71 L537.07 156.49 L537.95 155.27 L538.84 154.05 L539.73 152.84 L540.63 151.63 L541.54 150.43 L542.44 149.23 L543.36 148.03 L544.27 146.84 L545.2 145.66 L546.13 144.47 L547.06 143.3 L548 142.12 L548.94 140.95 L549.89 139.79 L550.84 138.63 L551.8 137.47 L552.77 136.32 L553.74 135.18 L554.71 134.03 L555.69 132.9 L556.68 131.77 L557.67 130.64 L558.66 129.52 L559.66 128.4 L560.67 127.29 L561.68 126.19 L562.7 125.08 L563.72 123.99 L564.75 122.9 L565.79 121.81 L566.83 120.73 L567.87 119.66 L568.92 118.59 L569.98 117.53 L571.04 116.47 L572.11 115.42 L573.18 114.37 L574.26 113.33 L575.35 112.3 L576.44 111.27 L577.54 110.24 L578.64 109.23 L579.75 108.22 L580.86 107.21 L581.98 106.21 L583.11 105.22 L584.24 104.23 L585.37 103.25 L586.52 102.28 L587.66 101.31 L588.82 100.35 L589.97 99.4 L591.14 98.45 L592.31 97.5 L593.48 96.57 L594.66 95.64 L595.85 94.72 L597.04 93.8 L598.23 92.89 L599.44 91.99 L600.64 91.09 L601.85 90.2 L603.07 89.32 L604.29 88.44 L605.52 87.57 L606.75 86.71 L607.98 85.85 L609.22 85.01 L610.47 84.16 L611.72 83.33 L612.98 82.5 L614.24 81.68 L615.5 80.87 L616.77 80.06 L618.04 79.26 L619.32 78.47 L620.61 77.69 L621.89 76.91 L623.19 76.14 L624.48 75.38 L625.78 74.63 L627.09 73.88 L628.4 73.14 L629.71 72.41 L631.03 71.68 L632.35 70.97 L633.68 70.26 L635.01 69.56 L636.34 68.86 L637.68 68.18 L639.02 67.5 L640.37 66.83 L641.72 66.17 L643.07 65.51 L644.43 64.87 L645.79 64.23 L647.16 63.6 L648.53 62.97 L649.9 62.36 L651.28 61.75 L652.66 61.16 L654.04 60.57 L655.43 59.99 L656.82 59.41 L658.22 58.85 L659.62 58.29 L661.02 57.75 L662.42 57.21 L663.83 56.68 L665.24 56.15 L666.66 55.64 L668.08 55.14 L669.5 54.64 L670.92 54.15 L672.35 53.67 L673.78 53.2 L675.21 52.74 L676.65 52.29 L678.09 51.85" stroke="#e00000" stroke-width="2.2" fill="none" stroke-linejoin="round"/>
<path d="M70.15 348.98 L71.02 350.21 L71.89 351.44 L72.76 352.67 L73.63 353.9 L74.51 355.13 L75.38 356.36 L76.25 357.59 L77.13 358.82 L78 360.04 L78.88 361.26 L79.75 362.49 L80.63 363.71 L81.51 364.93 L82.39 366.15 L83.28 367.37 L84.16 368.58 L85.04 369.8 L85.93 371.01 L86.82 372.22 L87.71 373.43 L88.6 374.64 L89.49 375.85 L90.39 377.05 L91.29 378.26 L92.18 379.46 L93.08 380.66 L93.99 381.86 L94.89 383.06 L95.8 384.25 L96.71 385.45 L97.62 386.64 L98.53 387.83 L99.44 389.01 L100.36 390.2 L101.28 391.38 L102.2 392.56 L103.13 393.74 L104.06 394.92 L104.99 396.1 L105.92 397.27 L106.85 398.44 L107.79 399.61 L108.73 400.78 L109.68 401.94 L110.62 403.1 L111.57 404.26 L112.53 405.42 L113.48 406.57 L114.44 407.72 L115.4 408.87 L116.37 410.02 L117.34 411.16 L118.31 412.3 L119.29 413.44 L120.26 414.58 L121.25 415.71 L122.23 416.84 L123.22 417.97 L124.22 419.09 L125.21 420.21 L126.21 421.33 L127.22 422.45 L128.23 423.56 L129.24 424.67 L130.26 425.78 L131.28 426.88 L132.3 427.98 L133.33 429.08 L134.36 430.17 L135.4 431.26 L136.44 432.35 L137.49 433.43 L138.54 434.51 L139.59 435.59 L140.65 436.67 L141.72 437.74 L142.78 438.8 L143.86 439.87 L144.93 440.93 L146.02 441.98 L147.11 443.03 L148.2 444.07 L149.3 445.11 L150.41 446.14 L151.52 447.16 L152.65 448.17 L153.78 449.17 L154.92 450.16 L156.06 451.14 L157.22 452.1 L158.38 453.05 L159.56 453.99 L160.74 454.91 L161.94 455.82 L163.14 456.71 L164.36 457.58 L165.59 458.43 L166.82 459.27 L168.08 460.08 L169.34 460.88 L170.62 461.65 L171.91 462.4 L173.21 463.13 L174.53 463.83 L175.87 464.51 L177.21 465.17 L178.58 465.8 L179.95 466.4 L181.34 466.97 L182.74 467.52 L184.15 468.04 L185.57 468.53 L187.01 469 L188.45 469.43 L189.9 469.84 L191.35 470.21 L192.82 470.56 L194.29 470.87 L195.76 471.16 L197.25 471.41 L198.73 471.64 L200.22 471.83 L201.71 471.98 L203.2 472.11 L204.69 472.2 L206.18 472.26 L207.68 472.28 L209.17 472.27 L210.66 472.23 L212.14 472.15 L213.63 472.04 L215.11 471.89 L216.59 471.71 L218.06 471.51 L219.54 471.27 L221.01 471.01 L222.47 470.72 L223.94 470.4 L225.4 470.06 L226.85 469.69 L228.3 469.3 L229.75 468.89 L231.2 468.46 L232.64 468 L234.07 467.53 L235.5 467.05 L236.93 466.54 L238.35 466.02 L239.77 465.49 L241.18 464.94 L242.59 464.38 L243.99 463.81 L245.39 463.23 L246.79 462.64 L248.17 462.04 L249.55 461.43 L250.93 460.82 L252.3 460.2 L253.67 459.58 L255.03 458.95 L256.39 458.32 L257.74 457.67 L259.09 457.03 L260.44 456.38 L261.78 455.72 L263.12 455.06 L264.46 454.39 L265.8 453.72 L267.13 453.04 L268.46 452.36 L269.79 451.67 L271.12 450.98 L272.44 450.29 L273.77 449.59 L275.1 448.89 L276.42 448.18 L277.75 447.47 L279.07 446.76 L280.4 446.05 L281.73 445.33 L283.05 444.61 L284.38 443.88 L285.71 443.15 L287.05 442.43 L288.38 441.7 L289.72 440.98 L291.06 440.25 L292.4 439.53 L293.74 438.82 L295.09 438.12 L296.44 437.42 L297.79 436.73 L299.15 436.05 L300.5 435.39 L301.87 434.73 L303.23 434.09 L304.6 433.47 L305.98 432.86 L307.35 432.28 L308.74 431.71 L310.12 431.16 L311.52 430.63 L312.91 430.13 L314.31 429.65 L315.72 429.2 L317.13 428.77 L318.55 428.37 L319.97 428 L321.4 427.65 L322.83 427.33 L324.27 427.03 L325.71 426.76 L327.16 426.52 L328.61 426.3 L330.07 426.1 L331.53 425.93 L333 425.79 L334.47 425.67 L335.95 425.57 L337.43 425.5 L338.92 425.45 L340.42 425.43 L341.92 425.43 L343.42 425.45 L344.93 425.49 L346.44 425.56 L347.96 425.66 L349.48 425.77 L351.01 425.91 L352.55 426.07 L354.08 426.24 L355.62 426.43 L357.17 426.63 L358.71 426.83 L360.26 427.04 L361.8 427.25 L363.35 427.46 L364.89 427.66 L366.44 427.84 L367.98 428.02 L369.52 428.18 L371.05 428.32 L372.58 428.44 L374.11 428.52 L375.63 428.58 L377.15 428.61 L378.66 428.6 L380.16 428.55 L381.65 428.47 L383.12 428.34 L384.59 428.17 L386.03 427.96 L387.46 427.7 L388.88 427.4 L390.27 427.05 L391.64 426.65 L392.98 426.21 L394.3 425.71 L395.59 425.16 L396.85 424.56 L398.09 423.91 L399.3 423.21 L400.49 422.47 L401.66 421.69 L402.8 420.86 L403.91 419.99 L405.01 419.09 L406.09 418.14 L407.14 417.17 L408.17 416.15 L409.19 415.11 L410.18 414.03 L411.16 412.93 L412.12 411.8 L413.06 410.65 L413.99 409.47 L414.9 408.26 L415.8 407.04 L416.68 405.8 L417.55 404.54 L418.4 403.27 L419.25 401.98 L420.08 400.68 L420.9 399.37 L421.71 398.05 L422.51 396.72 L423.3 395.39 L424.08 394.05 L424.86 392.71 L425.62 391.37 L426.38 390.02 L427.14 388.68 L427.88 387.33 L428.62 385.98 L429.35 384.63 L430.08 383.28 L430.8 381.93 L431.51 380.57 L432.21 379.21 L432.91 377.85 L433.6 376.49 L434.29 375.13 L434.97 373.77 L435.65 372.4 L436.31 371.04 L436.98 369.67 L437.63 368.3 L438.29 366.93 L438.93 365.56 L439.58 364.19 L440.21 362.82 L440.84 361.44 L441.47 360.06 L442.09 358.69 L442.71 357.31 L443.32 355.93 L443.93 354.55 L444.53 353.17 L445.13 351.79 L445.73 350.4 L446.32 349.02 L446.91 347.63 L447.49 346.25 L448.07 344.86 L448.65 343.47 L449.22 342.09 L449.79 340.7 L450.36 339.31 L450.93 337.92 L451.49 336.52 L452.05 335.13 L452.6 333.74 L453.15 332.35 L453.7 330.95 L454.25 329.56 L454.8 328.17 L455.34 326.77 L455.88 325.38 L456.42 323.98 L456.96 322.58 L457.5 321.19 L458.03 319.79 L458.57 318.4 L459.1 317 L459.63 315.6 L460.16 314.2 L460.69 312.81 L461.22 311.41 L461.74 310.01 L462.27 308.61 L462.8 307.21 L463.32 305.82 L463.85 304.42 L464.37 303.02 L464.9 301.62 L465.42 300.23 L465.95 298.83 L466.47 297.43 L467 296.03 L467.52 294.64 L468.05 293.24 L468.58 291.85 L469.11 290.45 L469.63 289.05 L470.16 287.66 L470.7 286.26 L471.23 284.87 L471.76 283.48 L472.3 282.08 L472.84 280.69 L473.37 279.3 L473.92 277.91 L474.46 276.52 L475 275.13 L475.55 273.74 L476.1 272.35 L476.65 270.96 L477.21 269.57 L477.76 268.19 L478.32 266.8 L478.88 265.42 L479.45 264.03 L480.02 262.65 L480.59 261.27 L481.17 259.89 L481.74 258.51 L482.33 257.13 L482.91 255.75 L483.5 254.37 L484.1 253 L484.69 251.62 L485.29 250.25 L485.9 248.88 L486.51 247.51 L487.13 246.14 L487.74 244.77 L488.37 243.4 L489 242.04 L489.63 240.67 L490.27 239.31 L490.91 237.95 L491.55 236.59 L492.2 235.23 L492.86 233.88 L493.51 232.52 L494.18 231.17 L494.85 229.82 L495.52 228.47 L496.19 227.12 L496.87 225.78 L497.56 224.43 L498.25 223.09 L498.94 221.75 L499.64 220.41 L500.34 219.07 L501.04 217.74 L501.75 216.41 L502.47 215.08 L503.19 213.75 L503.91 212.42 L504.64 211.1 L505.37 209.78 L506.1 208.46 L506.84 207.14 L507.58 205.83 L508.33 204.52 L509.08 203.21 L509.84 201.9 L510.6 200.6 L511.36 199.29 L512.13 198 L512.9 196.7 L513.68 195.4 L514.46 194.11 L515.24 192.82 L516.03 191.54 L516.82 190.25 L517.62 188.97 L518.41 187.7 L519.22 186.42 L520.03 185.15 L520.84 183.88 L521.65 182.61 L522.47 181.35 L523.29 180.09 L524.12 178.83 L524.95 177.58 L525.79 176.33 L526.63 175.08 L527.47 173.84 L528.31 172.6 L529.16 171.36 L530.02 170.13 L530.88 168.9 L531.74 167.67 L532.6 166.45 L533.47 165.22 L534.34 164.01 L535.22 162.79 L536.1 161.58 L536.99 160.38 L537.88 159.17 L538.77 157.97 L539.67 156.78 L540.57 155.59 L541.47 154.4 L542.38 153.21 L543.3 152.03 L544.22 150.85 L545.14 149.68 L546.06 148.51 L547 147.34 L547.93 146.18 L548.87 145.02 L549.82 143.86 L550.77 142.71 L551.72 141.56 L552.68 140.41 L553.64 139.27 L554.61 138.14 L555.58 137 L556.56 135.87 L557.54 134.75 L558.53 133.62 L559.52 132.51 L560.51 131.39 L561.52 130.28 L562.52 129.17 L563.53 128.07 L564.55 126.97 L565.57 125.88 L566.6 124.79 L567.63 123.7 L568.67 122.62 L569.71 121.54 L570.75 120.46 L571.81 119.39 L572.86 118.33 L573.93 117.26 L574.99 116.21 L576.07 115.15 L577.15 114.1 L578.23 113.06 L579.32 112.02 L580.41 110.99 L581.51 109.96 L582.62 108.93 L583.73 107.92 L584.84 106.9 L585.96 105.9 L587.09 104.89 L588.22 103.9 L589.36 102.91 L590.5 101.93 L591.64 100.95 L592.79 99.98 L593.95 99.01 L595.11 98.05 L596.28 97.1 L597.45 96.16 L598.63 95.22 L599.81 94.29 L601 93.37 L602.2 92.45 L603.4 91.54 L604.6 90.64 L605.81 89.75 L607.02 88.87 L608.24 87.99 L609.47 87.12 L610.7 86.26 L611.93 85.4 L613.17 84.56 L614.42 83.72 L615.67 82.9 L616.93 82.08 L618.19 81.27 L619.45 80.47 L620.72 79.68 L622 78.9 L623.28 78.12 L624.57 77.36 L625.86 76.61 L627.16 75.86 L628.46 75.13 L629.77 74.4 L631.08 73.68 L632.4 72.98 L633.72 72.28 L635.05 71.59 L636.38 70.9 L637.71 70.23 L639.05 69.56 L640.39 68.91 L641.74 68.26 L643.09 67.61 L644.45 66.98 L645.81 66.35 L647.17 65.73 L648.54 65.12 L649.91 64.52 L651.29 63.92 L652.67 63.32 L654.05 62.74 L655.43 62.16 L656.82 61.59 L658.21 61.02 L659.61 60.46 L661 59.91 L662.41 59.36 L663.81 58.82 L665.22 58.28 L666.62 57.75 L668.04 57.22 L669.45 56.7 L670.87 56.19 L672.29 55.67 L673.71 55.17 L675.13 54.66 L676.56 54.17 L677.98 53.67" stroke="#000000" stroke-width="2.2" fill="none" stroke-linejoin="round"/>
</g>
<path d="M69.7 12.8 L70.1 7" stroke="#000" stroke-width="2.2"/>
<path d="M310.6 33 h14.05 M332.45 33 H346.5" stroke="#00e000" stroke-width="2.1"/>
<text x="356" y="39" font-size="17.6" text-anchor="start">EKF</text>
<path d="M310.6 52 h14.05 M332.45 52 H346.5" stroke="#0000e0" stroke-width="2.1"/>
<text x="356" y="58" font-size="17.6" text-anchor="start">CKF</text>
<path d="M310.6 71.2 h14.05 M332.45 71.2 H346.5" stroke="#e00000" stroke-width="2.1"/>
<text x="356" y="77.2" font-size="17.6" text-anchor="start">CNCKF</text>
<path d="M310.6 90.2 h14.05 M332.45 90.2 H346.5" stroke="#000000" stroke-width="2.1"/>
<text x="356" y="96.2" font-size="17.6" text-anchor="start">CN2CKF</text>
<path d="M539.9 409.9 H581.2" stroke="#00e000" stroke-width="2.1"/>
<text x="584.8" y="415.9" font-size="17.6" text-anchor="start">EKS</text>
<path d="M539.9 429 H581.2" stroke="#0000e0" stroke-width="2.1"/>
<text x="584.8" y="435" font-size="17.6" text-anchor="start">CKS</text>
<path d="M539.9 447.9 H581.2" stroke="#e00000" stroke-width="2.1"/>
<text x="584.8" y="453.9" font-size="17.6" text-anchor="start">CNCKS</text>
<path d="M539.9 467.1 H581.2" stroke="#000000" stroke-width="2.1"/>
<text x="584.8" y="473.1" font-size="17.6" text-anchor="start">CN2CKS</text>
<clipPath id="c2"><rect x="63.8" y="624" width="612.7" height="482.2"/></clipPath>
<path d="M63.8 1106.2 V1099.6 M63.8 624 V630.6 M165.92 1106.2 V1099.6 M165.92 624 V630.6 M268.03 1106.2 V1099.6 M268.03 624 V630.6 M370.15 1106.2 V1099.6 M370.15 624 V630.6 M472.27 1106.2 V1099.6 M472.27 624 V630.6 M574.38 1106.2 V1099.6 M574.38 624 V630.6 M676.5 1106.2 V1099.6 M676.5 624 V630.6 M63.8 1106.2 H70.4 M676.5 1106.2 H669.9 M63.8 999.04 H70.4 M676.5 999.04 H669.9 M63.8 891.89 H70.4 M676.5 891.89 H669.9 M63.8 784.73 H70.4 M676.5 784.73 H669.9 M63.8 677.58 H70.4 M676.5 677.58 H669.9 " stroke="#262626" stroke-width="1.3" fill="none"/>
<rect x="63.8" y="624" width="612.7" height="482.2" stroke="#262626" stroke-width="1.6" fill="none"/>
<text x="63.8" y="1128.4" font-size="17.6" text-anchor="middle">0</text>
<text x="165.92" y="1128.4" font-size="17.6" text-anchor="middle">5</text>
<text x="268.03" y="1128.4" font-size="17.6" text-anchor="middle">10</text>
<text x="370.15" y="1128.4" font-size="17.6" text-anchor="middle">15</text>
<text x="472.27" y="1128.4" font-size="17.6" text-anchor="middle">20</text>
<text x="574.38" y="1128.4" font-size="17.6" text-anchor="middle">25</text>
<text x="676.5" y="1128.4" font-size="17.6" text-anchor="middle">30</text>
<text x="56" y="1112.1" font-size="17.6" text-anchor="end">0.5</text>
<text x="56" y="1004.94" font-size="17.6" text-anchor="end">1.5</text>
<text x="56" y="897.79" font-size="17.6" text-anchor="end">2.5</text>
<text x="56" y="790.63" font-size="17.6" text-anchor="end">3.5</text>
<text x="56" y="683.48" font-size="17.6" text-anchor="end">4.5</text>
<text x="370.15" y="1149.7" font-size="20.8" text-anchor="middle">Time</text>
<text transform="translate(23 864.9) rotate(-90)" font-size="20.8" text-anchor="middle">RMSE - velocity</text>
<g clip-path="url(#c2)">
<path d="M476.01 624.82 L476.27 626.27 L476.52 627.71 L476.77 629.15 L477.03 630.6 L477.28 632.04 L477.53 633.49 L477.78 634.93 L478.03 636.38 L478.28 637.83 L478.53 639.28 L478.77 640.73 L479.02 642.18 L479.26 643.64 L479.51 645.09 L479.75 646.54 L479.99 648 L480.23 649.46 L480.48 650.91 L480.72 652.37 L480.96 653.83 L481.2 655.29 L481.43 656.75 L481.67 658.21 L481.91 659.67 L482.15 661.13 L482.38 662.6 L482.62 664.06 L482.85 665.53 L483.09 666.99 L483.32 668.46 L483.56 669.92 L483.79 671.39 L484.02 672.86 L484.26 674.33 L484.49 675.8 L484.72 677.27 L484.95 678.74 L485.19 680.21 L485.42 681.68 L485.65 683.16 L485.88 684.63 L486.11 686.11 L486.34 687.58 L486.57 689.06 L486.8 690.53 L487.03 692.01 L487.26 693.48 L487.49 694.96 L487.72 696.44 L487.95 697.92 L488.18 699.4 L488.41 700.88 L488.65 702.36 L488.88 703.84 L489.11 705.32 L489.34 706.8 L489.57 708.28 L489.8 709.76 L490.03 711.25 L490.26 712.73 L490.49 714.21 L490.73 715.7 L490.96 717.18 L491.19 718.67 L491.42 720.15 L491.66 721.64 L491.89 723.12 L492.13 724.61 L492.36 726.1 L492.6 727.58 L492.83 729.07 L493.07 730.56 L493.3 732.04 L493.54 733.53 L493.78 735.02 L494.02 736.51 L494.26 738 L494.5 739.49 L494.74 740.97 L494.98 742.46 L495.22 743.95 L495.46 745.44 L495.7 746.93 L495.95 748.42 L496.19 749.91 L496.44 751.4 L496.68 752.89 L496.93 754.38 L497.18 755.88 L497.43 757.37 L497.68 758.86 L497.93 760.35 L498.18 761.84 L498.43 763.33 L498.68 764.82 L498.94 766.31 L499.19 767.8 L499.45 769.3 L499.71 770.79 L499.97 772.28 L500.23 773.77 L500.49 775.26 L500.75 776.75 L501.01 778.24 L501.28 779.74 L501.54 781.23 L501.81 782.72 L502.08 784.21 L502.35 785.7 L502.62 787.19 L502.89 788.68 L503.17 790.17 L503.44 791.66 L503.72 793.15 L504 794.64 L504.28 796.13 L504.56 797.62 L504.84 799.11 L505.13 800.6 L505.41 802.09 L505.7 803.58 L505.99 805.07 L506.28 806.56 L506.57 808.05 L506.86 809.54 L507.16 811.02 L507.46 812.51 L507.76 814 L508.06 815.49 L508.36 816.97 L508.66 818.46 L508.97 819.95 L509.28 821.43 L509.59 822.92 L509.9 824.4 L510.21 825.89 L510.53 827.37 L510.84 828.86 L511.16 830.34 L511.49 831.82 L511.81 833.31 L512.13 834.79 L512.46 836.27 L512.79 837.75 L513.12 839.23 L513.46 840.71 L513.79 842.19 L514.13 843.67 L514.47 845.15 L514.82 846.63 L515.16 848.11 L515.51 849.59 L515.86 851.06 L516.21 852.54 L516.56 854.02 L516.92 855.49 L517.28 856.97 L517.64 858.44 L518 859.92 L518.37 861.39 L518.74 862.86 L519.11 864.33 L519.48 865.8 L519.86 867.28 L520.24 868.75 L520.62 870.21 L521 871.68 L521.39 873.15 L521.78 874.62 L522.17 876.09 L522.56 877.55 L522.96 879.02 L523.36 880.48 L523.76 881.94 L524.17 883.41 L524.58 884.87 L524.99 886.33 L525.4 887.79 L525.82 889.25 L526.24 890.71 L526.66 892.16 L527.09 893.62 L527.52 895.07 L527.95 896.52 L528.38 897.98 L528.82 899.43 L529.27 900.88 L529.71 902.33 L530.16 903.77 L530.61 905.22 L531.06 906.66 L531.52 908.1 L531.98 909.55 L532.45 910.99 L532.92 912.42 L533.39 913.86 L533.87 915.3 L534.34 916.73 L534.83 918.16 L535.31 919.59 L535.8 921.02 L536.3 922.45 L536.79 923.87 L537.29 925.29 L537.8 926.72 L538.31 928.13 L538.82 929.55 L539.34 930.97 L539.86 932.38 L540.38 933.79 L540.91 935.2 L541.44 936.61 L541.98 938.01 L542.52 939.42 L543.06 940.82 L543.61 942.22 L544.16 943.61 L544.72 945.01 L545.28 946.4 L545.84 947.79 L546.41 949.17 L546.99 950.56 L547.56 951.94 L548.15 953.32 L548.73 954.7 L549.32 956.07 L549.92 957.44 L550.52 958.81 L551.12 960.18 L551.73 961.54 L552.35 962.9 L552.96 964.26 L553.59 965.62 L554.21 966.97 L554.85 968.32 L555.48 969.67 L556.13 971.01 L556.77 972.35 L557.42 973.69 L558.08 975.02 L558.74 976.36 L559.41 977.69 L560.08 979.01 L560.75 980.33 L561.44 981.65 L562.12 982.97 L562.81 984.28 L563.51 985.59 L564.21 986.9 L564.92 988.2 L565.63 989.5 L566.35 990.8 L567.07 992.09 L567.8 993.38 L568.53 994.67 L569.27 995.95 L570.01 997.23 L570.76 998.5 L571.52 999.77 L572.28 1001.04 L573.04 1002.31 L573.81 1003.57 L574.59 1004.82 L575.37 1006.08 L576.16 1007.32 L576.96 1008.57 L577.76 1009.81 L578.56 1011.05 L579.37 1012.28 L580.19 1013.51 L581.01 1014.74 L581.84 1015.96 L582.68 1017.17 L583.52 1018.39 L584.36 1019.6 L585.22 1020.8 L586.07 1022 L586.94 1023.2 L587.81 1024.39 L588.69 1025.57 L589.57 1026.76 L590.46 1027.94 L591.35 1029.11 L592.26 1030.28 L593.16 1031.44 L594.08 1032.6 L595 1033.76 L595.93 1034.91 L596.86 1036.06 L597.8 1037.2 L598.75 1038.34 L599.7 1039.47 L600.66 1040.6 L601.62 1041.72 L602.6 1042.84 L603.58 1043.95 L604.56 1045.06 L605.55 1046.16 L606.55 1047.26 L607.56 1048.36 L608.57 1049.44 L609.59 1050.53 L610.62 1051.61 L611.65 1052.68 L612.69 1053.75 L613.74 1054.81 L614.79 1055.87 L615.86 1056.92 L616.92 1057.97 L618 1059.01 L619.08 1060.04 L620.17 1061.07 L621.27 1062.1 L622.37 1063.12 L623.48 1064.13 L624.6 1065.14 L625.73 1066.15 L626.86 1067.14 L628 1068.14 L629.15 1069.12 L630.31 1070.1 L631.47 1071.08 L632.64 1072.05 L633.82 1073.01 L635 1073.97 L636.19 1074.92 L637.39 1075.87 L638.6 1076.81 L639.82 1077.74 L641.04 1078.67 L642.27 1079.59 L643.51 1080.5 L644.76 1081.41 L646.01 1082.32 L647.28 1083.22 L648.55 1084.11 L649.83 1084.99 L651.11 1085.87 L652.41 1086.74 L653.71 1087.61 L655.02 1088.47 L656.34 1089.32 L657.66 1090.17 L659 1091.01 L660.34 1091.84 L661.69 1092.67 L663.05 1093.49 L664.42 1094.31 L665.8 1095.11 L667.18 1095.91 L668.57 1096.71 L669.97 1097.5 L671.38 1098.28 L672.8 1099.05 L674.23 1099.82 L675.66 1100.58 L677.11 1101.33 L678.56 1102.08" stroke="#00e000" stroke-width="2" fill="none" stroke-linejoin="round" stroke-dasharray="13.4 8.4"/>
<path d="M467.79 623.87 L467.98 625.37 L468.17 626.88 L468.36 628.39 L468.55 629.89 L468.74 631.4 L468.93 632.9 L469.12 634.41 L469.31 635.91 L469.5 637.42 L469.69 638.92 L469.88 640.42 L470.08 641.93 L470.27 643.43 L470.46 644.93 L470.65 646.43 L470.85 647.93 L471.04 649.43 L471.24 650.93 L471.43 652.43 L471.63 653.93 L471.82 655.43 L472.02 656.93 L472.21 658.43 L472.41 659.93 L472.61 661.42 L472.81 662.92 L473 664.42 L473.2 665.91 L473.4 667.41 L473.6 668.91 L473.8 670.4 L474 671.9 L474.21 673.39 L474.41 674.88 L474.61 676.38 L474.81 677.87 L475.02 679.37 L475.22 680.86 L475.43 682.35 L475.63 683.84 L475.84 685.33 L476.05 686.83 L476.26 688.32 L476.46 689.81 L476.67 691.3 L476.88 692.79 L477.09 694.28 L477.3 695.77 L477.52 697.26 L477.73 698.75 L477.94 700.24 L478.16 701.73 L478.37 703.21 L478.59 704.7 L478.8 706.19 L479.02 707.68 L479.24 709.16 L479.46 710.65 L479.67 712.14 L479.89 713.62 L480.12 715.11 L480.34 716.6 L480.56 718.08 L480.78 719.57 L481.01 721.05 L481.23 722.54 L481.46 724.02 L481.69 725.51 L481.91 726.99 L482.14 728.47 L482.37 729.96 L482.6 731.44 L482.83 732.93 L483.07 734.41 L483.3 735.89 L483.53 737.37 L483.77 738.86 L484.01 740.34 L484.24 741.82 L484.48 743.3 L484.72 744.78 L484.96 746.27 L485.2 747.75 L485.44 749.23 L485.69 750.71 L485.93 752.19 L486.18 753.67 L486.42 755.15 L486.67 756.63 L486.92 758.11 L487.17 759.59 L487.42 761.07 L487.67 762.55 L487.92 764.03 L488.18 765.51 L488.43 766.99 L488.69 768.47 L488.95 769.94 L489.21 771.42 L489.47 772.9 L489.73 774.38 L489.99 775.86 L490.25 777.34 L490.52 778.82 L490.79 780.29 L491.05 781.77 L491.32 783.25 L491.59 784.73 L491.86 786.2 L492.13 787.68 L492.41 789.16 L492.68 790.64 L492.96 792.11 L493.24 793.59 L493.52 795.07 L493.8 796.54 L494.08 798.02 L494.36 799.5 L494.64 800.97 L494.93 802.45 L495.22 803.93 L495.51 805.4 L495.8 806.88 L496.09 808.36 L496.38 809.83 L496.67 811.31 L496.97 812.78 L497.27 814.26 L497.56 815.74 L497.86 817.21 L498.17 818.69 L498.47 820.16 L498.77 821.64 L499.08 823.12 L499.39 824.59 L499.69 826.07 L500 827.54 L500.32 829.02 L500.63 830.49 L500.94 831.97 L501.26 833.45 L501.58 834.92 L501.9 836.4 L502.22 837.87 L502.54 839.35 L502.87 840.83 L503.19 842.3 L503.52 843.78 L503.85 845.25 L504.18 846.73 L504.51 848.21 L504.85 849.68 L505.18 851.16 L505.52 852.63 L505.86 854.11 L506.2 855.59 L506.55 857.06 L506.89 858.54 L507.24 860.01 L507.58 861.49 L507.93 862.97 L508.29 864.44 L508.64 865.92 L508.99 867.4 L509.35 868.87 L509.71 870.35 L510.07 871.83 L510.43 873.3 L510.8 874.78 L511.16 876.26 L511.53 877.74 L511.9 879.21 L512.27 880.69 L512.64 882.17 L513.02 883.65 L513.4 885.12 L513.78 886.6 L514.16 888.08 L514.54 889.56 L514.92 891.03 L515.31 892.51 L515.7 893.99 L516.09 895.47 L516.48 896.95 L516.88 898.43 L517.27 899.91 L517.67 901.39 L518.07 902.87 L518.48 904.34 L518.88 905.82 L519.29 907.3 L519.7 908.78 L520.11 910.26 L520.52 911.74 L520.94 913.21 L521.36 914.68 L521.79 916.15 L522.22 917.61 L522.65 919.07 L523.09 920.53 L523.53 921.98 L523.97 923.43 L524.42 924.87 L524.88 926.3 L525.34 927.72 L525.8 929.09 L526.23 930.39 L526.64 931.59 L527.01 932.64 L527.34 933.51 L527.6 934.18 L527.8 934.61 L527.91 934.77 L527.94 934.63 L527.89 934.22 L527.76 933.56 L527.56 932.68 L527.31 931.6 L527 930.35 L526.65 928.96 L526.26 927.45 L525.84 925.84 L525.4 924.17 L524.94 922.45 L524.47 920.71 L524 918.98 L523.54 917.29 L523.09 915.65 L522.66 914.1 L522.26 912.66 L521.89 911.35 L521.57 910.21 L521.29 909.25 L521.07 908.5 L520.92 907.99 L520.84 907.75 L520.83 907.78 L520.9 908.08 L521.03 908.63 L521.23 909.39 L521.48 910.35 L521.78 911.47 L522.13 912.75 L522.52 914.16 L522.94 915.67 L523.39 917.25 L523.87 918.9 L524.36 920.58 L524.86 922.26 L525.37 923.94 L525.89 925.58 L526.4 927.17 L526.91 928.73 L527.42 930.25 L527.92 931.74 L528.43 933.21 L528.94 934.66 L529.44 936.1 L529.95 937.53 L530.45 938.96 L530.96 940.39 L531.47 941.82 L531.97 943.25 L532.48 944.68 L532.99 946.11 L533.5 947.54 L534.01 948.97 L534.52 950.4 L535.03 951.82 L535.55 953.25 L536.06 954.67 L536.58 956.09 L537.11 957.52 L537.63 958.94 L538.16 960.35 L538.69 961.77 L539.22 963.19 L539.75 964.6 L540.29 966.01 L540.84 967.42 L541.38 968.83 L541.93 970.24 L542.49 971.64 L543.05 973.04 L543.61 974.44 L544.18 975.84 L544.75 977.23 L545.33 978.62 L545.91 980.01 L546.5 981.39 L547.09 982.78 L547.69 984.16 L548.29 985.53 L548.9 986.9 L549.52 988.27 L550.15 989.64 L550.78 991 L551.41 992.36 L552.06 993.72 L552.71 995.07 L553.36 996.42 L554.03 997.76 L554.7 999.1 L555.38 1000.43 L556.07 1001.77 L556.77 1003.09 L557.48 1004.41 L558.19 1005.73 L558.91 1007.04 L559.64 1008.35 L560.38 1009.66 L561.13 1010.95 L561.89 1012.25 L562.66 1013.54 L563.43 1014.82 L564.21 1016.1 L565 1017.38 L565.8 1018.64 L566.61 1019.91 L567.43 1021.17 L568.25 1022.42 L569.09 1023.67 L569.93 1024.91 L570.78 1026.15 L571.63 1027.38 L572.5 1028.61 L573.37 1029.83 L574.25 1031.05 L575.14 1032.26 L576.04 1033.47 L576.94 1034.67 L577.85 1035.86 L578.77 1037.05 L579.7 1038.23 L580.63 1039.41 L581.58 1040.58 L582.53 1041.75 L583.48 1042.91 L584.45 1044.06 L585.42 1045.21 L586.4 1046.35 L587.39 1047.49 L588.38 1048.62 L589.38 1049.74 L590.39 1050.86 L591.4 1051.97 L592.42 1053.08 L593.45 1054.18 L594.49 1055.27 L595.53 1056.36 L596.58 1057.44 L597.64 1058.51 L598.7 1059.58 L599.77 1060.64 L600.84 1061.69 L601.93 1062.74 L603.02 1063.78 L604.11 1064.82 L605.21 1065.85 L606.32 1066.87 L607.44 1067.88 L608.56 1068.89 L609.68 1069.89 L610.82 1070.89 L611.96 1071.87 L613.1 1072.85 L614.25 1073.83 L615.41 1074.79 L616.58 1075.75 L617.75 1076.7 L618.92 1077.65 L620.1 1078.59 L621.29 1079.52 L622.48 1080.44 L623.68 1081.36 L624.88 1082.26 L626.09 1083.16 L627.31 1084.06 L628.53 1084.94 L629.75 1085.82 L630.98 1086.69 L632.22 1087.56 L633.46 1088.41 L634.71 1089.26 L635.96 1090.1 L637.22 1090.93 L638.48 1091.76 L639.75 1092.58 L641.02 1093.39 L642.29 1094.19 L643.58 1094.98 L644.86 1095.76 L646.15 1096.54 L647.45 1097.31 L648.75 1098.07 L650.06 1098.82 L651.37 1099.57 L652.68 1100.31 L654 1101.03 L655.33 1101.75 L656.65 1102.47 L657.99 1103.17 L659.32 1103.86 L660.66 1104.55 L662.01 1105.23 L663.36 1105.9" stroke="#0000e0" stroke-width="2" fill="none" stroke-linejoin="round" stroke-dasharray="13.4 8.4"/>
<path d="M464.13 624.29 L464.35 625.76 L464.58 627.23 L464.81 628.69 L465.03 630.16 L465.26 631.63 L465.48 633.1 L465.7 634.57 L465.93 636.04 L466.15 637.51 L466.37 638.98 L466.59 640.45 L466.82 641.92 L467.04 643.39 L467.26 644.86 L467.48 646.33 L467.7 647.8 L467.92 649.28 L468.13 650.75 L468.35 652.22 L468.57 653.7 L468.79 655.17 L469.01 656.65 L469.22 658.12 L469.44 659.6 L469.66 661.07 L469.88 662.55 L470.09 664.02 L470.31 665.5 L470.52 666.98 L470.74 668.45 L470.96 669.93 L471.17 671.41 L471.39 672.89 L471.6 674.36 L471.82 675.84 L472.03 677.32 L472.25 678.8 L472.46 680.28 L472.68 681.76 L472.9 683.24 L473.11 684.72 L473.33 686.2 L473.54 687.68 L473.76 689.16 L473.97 690.64 L474.19 692.12 L474.41 693.61 L474.62 695.09 L474.84 696.57 L475.05 698.05 L475.27 699.53 L475.49 701.02 L475.7 702.5 L475.92 703.98 L476.14 705.47 L476.36 706.95 L476.58 708.43 L476.79 709.92 L477.01 711.4 L477.23 712.89 L477.45 714.37 L477.67 715.86 L477.89 717.34 L478.11 718.82 L478.34 720.31 L478.56 721.79 L478.78 723.28 L479 724.77 L479.23 726.25 L479.45 727.74 L479.67 729.22 L479.9 730.71 L480.12 732.19 L480.35 733.68 L480.58 735.17 L480.8 736.65 L481.03 738.14 L481.26 739.63 L481.49 741.11 L481.72 742.6 L481.95 744.09 L482.18 745.57 L482.41 747.06 L482.65 748.55 L482.88 750.03 L483.11 751.52 L483.35 753.01 L483.59 754.49 L483.82 755.98 L484.06 757.47 L484.3 758.96 L484.54 760.44 L484.78 761.93 L485.02 763.42 L485.26 764.91 L485.51 766.39 L485.75 767.88 L486 769.37 L486.24 770.85 L486.49 772.34 L486.74 773.83 L486.99 775.32 L487.24 776.8 L487.49 778.29 L487.74 779.78 L488 781.27 L488.25 782.75 L488.51 784.24 L488.76 785.73 L489.02 787.21 L489.28 788.7 L489.54 790.19 L489.81 791.67 L490.07 793.16 L490.33 794.65 L490.6 796.13 L490.87 797.62 L491.14 799.11 L491.41 800.59 L491.68 802.08 L491.95 803.56 L492.22 805.05 L492.5 806.54 L492.78 808.02 L493.06 809.51 L493.34 810.99 L493.62 812.48 L493.9 813.96 L494.19 815.45 L494.47 816.93 L494.76 818.42 L495.05 819.9 L495.34 821.39 L495.63 822.87 L495.93 824.36 L496.22 825.84 L496.52 827.32 L496.82 828.81 L497.12 830.29 L497.42 831.77 L497.72 833.26 L498.03 834.74 L498.34 836.22 L498.65 837.7 L498.96 839.19 L499.27 840.67 L499.59 842.15 L499.9 843.63 L500.22 845.11 L500.54 846.59 L500.86 848.07 L501.19 849.55 L501.51 851.03 L501.84 852.51 L502.17 853.99 L502.5 855.47 L502.84 856.95 L503.17 858.43 L503.51 859.91 L503.85 861.39 L504.2 862.86 L504.54 864.34 L504.89 865.82 L505.24 867.29 L505.59 868.77 L505.94 870.24 L506.3 871.72 L506.66 873.19 L507.02 874.67 L507.38 876.14 L507.75 877.61 L508.11 879.08 L508.48 880.55 L508.86 882.02 L509.23 883.49 L509.61 884.96 L509.99 886.42 L510.38 887.89 L510.77 889.35 L511.16 890.82 L511.55 892.28 L511.94 893.74 L512.34 895.2 L512.74 896.66 L513.15 898.12 L513.55 899.58 L513.96 901.03 L514.38 902.49 L514.79 903.94 L515.21 905.4 L515.64 906.85 L516.06 908.3 L516.49 909.74 L516.92 911.19 L517.36 912.64 L517.8 914.08 L518.24 915.52 L518.69 916.96 L519.14 918.4 L519.59 919.84 L520.05 921.28 L520.51 922.71 L520.97 924.15 L521.44 925.58 L521.91 927.01 L522.38 928.43 L522.86 929.86 L523.34 931.28 L523.83 932.71 L524.32 934.13 L524.81 935.55 L525.31 936.96 L525.81 938.38 L526.31 939.79 L526.82 941.2 L527.33 942.61 L527.85 944.02 L528.37 945.42 L528.9 946.82 L529.43 948.22 L529.96 949.62 L530.5 951.02 L531.04 952.41 L531.59 953.8 L532.14 955.19 L532.69 956.58 L533.25 957.96 L533.82 959.34 L534.38 960.72 L534.96 962.1 L535.53 963.47 L536.12 964.84 L536.7 966.21 L537.29 967.58 L537.89 968.94 L538.49 970.3 L539.1 971.66 L539.7 973.02 L540.32 974.37 L540.94 975.72 L541.56 977.07 L542.19 978.42 L542.83 979.76 L543.47 981.1 L544.11 982.43 L544.76 983.77 L545.41 985.1 L546.07 986.42 L546.74 987.75 L547.41 989.07 L548.08 990.39 L548.76 991.7 L549.45 993.01 L550.14 994.32 L550.83 995.63 L551.54 996.93 L552.24 998.23 L552.95 999.52 L553.67 1000.82 L554.4 1002.11 L555.12 1003.39 L555.86 1004.67 L556.6 1005.95 L557.34 1007.23 L558.1 1008.5 L558.85 1009.77 L559.62 1011.03 L560.38 1012.29 L561.16 1013.55 L561.94 1014.8 L562.72 1016.05 L563.52 1017.3 L564.31 1018.54 L565.12 1019.78 L565.93 1021.02 L566.74 1022.25 L567.57 1023.48 L568.39 1024.7 L569.23 1025.92 L570.07 1027.13 L570.91 1028.35 L571.77 1029.55 L572.63 1030.76 L573.49 1031.96 L574.36 1033.15 L575.24 1034.34 L576.13 1035.53 L577.02 1036.71 L577.92 1037.89 L578.82 1039.07 L579.73 1040.24 L580.65 1041.4 L581.57 1042.56 L582.5 1043.72 L583.44 1044.88 L584.38 1046.02 L585.33 1047.17 L586.29 1048.31 L587.26 1049.44 L588.23 1050.57 L589.2 1051.7 L590.19 1052.82 L591.18 1053.94 L592.18 1055.05 L593.19 1056.16 L594.2 1057.26 L595.22 1058.36 L596.25 1059.45 L597.28 1060.54 L598.32 1061.62 L599.37 1062.7 L600.43 1063.77 L601.49 1064.84 L602.56 1065.91 L603.64 1066.96 L604.73 1068.02 L605.82 1069.07 L606.92 1070.11 L608.03 1071.15 L609.14 1072.18 L610.27 1073.21 L611.4 1074.23 L612.54 1075.25 L613.68 1076.27 L614.84 1077.27 L616 1078.27 L617.17 1079.27 L618.34 1080.26 L619.53 1081.25 L620.72 1082.23 L621.92 1083.2 L623.13 1084.17 L624.35 1085.14 L625.57 1086.1 L626.8 1087.05 L628.04 1088 L629.29 1088.94 L630.55 1089.87 L631.82 1090.8 L633.09 1091.73 L634.37 1092.65 L635.66 1093.56 L636.96 1094.47 L638.26 1095.37 L639.58 1096.27 L640.9 1097.16 L642.23 1098.04 L643.57 1098.92 L644.92 1099.79 L646.28 1100.65 L647.65 1101.51 L649.02 1102.37 L650.4 1103.22 L651.8 1104.06 L653.2 1104.89 L654.61 1105.72 L656.03 1106.54" stroke="#e00000" stroke-width="2" fill="none" stroke-linejoin="round" stroke-dasharray="13.4 8.4"/>
<path d="M463.53 624.49 L463.75 625.96 L463.98 627.43 L464.21 628.89 L464.43 630.36 L464.66 631.83 L464.88 633.3 L465.1 634.77 L465.33 636.24 L465.55 637.71 L465.77 639.18 L465.99 640.65 L466.22 642.12 L466.44 643.59 L466.66 645.06 L466.88 646.53 L467.1 648 L467.32 649.48 L467.53 650.95 L467.75 652.42 L467.97 653.9 L468.19 655.37 L468.41 656.85 L468.62 658.32 L468.84 659.8 L469.06 661.27 L469.28 662.75 L469.49 664.22 L469.71 665.7 L469.92 667.18 L470.14 668.65 L470.36 670.13 L470.57 671.61 L470.79 673.09 L471 674.56 L471.22 676.04 L471.43 677.52 L471.65 679 L471.86 680.48 L472.08 681.96 L472.3 683.44 L472.51 684.92 L472.73 686.4 L472.94 687.88 L473.16 689.36 L473.37 690.84 L473.59 692.32 L473.81 693.81 L474.02 695.29 L474.24 696.77 L474.45 698.25 L474.67 699.73 L474.89 701.22 L475.1 702.7 L475.32 704.18 L475.54 705.67 L475.76 707.15 L475.98 708.63 L476.19 710.12 L476.41 711.6 L476.63 713.09 L476.85 714.57 L477.07 716.06 L477.29 717.54 L477.51 719.02 L477.74 720.51 L477.96 721.99 L478.18 723.48 L478.4 724.97 L478.63 726.45 L478.85 727.94 L479.07 729.42 L479.3 730.91 L479.52 732.39 L479.75 733.88 L479.98 735.37 L480.2 736.85 L480.43 738.34 L480.66 739.83 L480.89 741.31 L481.12 742.8 L481.35 744.29 L481.58 745.77 L481.81 747.26 L482.05 748.75 L482.28 750.23 L482.51 751.72 L482.75 753.21 L482.99 754.69 L483.22 756.18 L483.46 757.67 L483.7 759.16 L483.94 760.64 L484.18 762.13 L484.42 763.62 L484.66 765.11 L484.91 766.59 L485.15 768.08 L485.4 769.57 L485.64 771.05 L485.89 772.54 L486.14 774.03 L486.39 775.52 L486.64 777 L486.89 778.49 L487.14 779.98 L487.4 781.47 L487.65 782.95 L487.91 784.44 L488.16 785.93 L488.42 787.41 L488.68 788.9 L488.94 790.39 L489.21 791.87 L489.47 793.36 L489.73 794.85 L490 796.33 L490.27 797.82 L490.54 799.31 L490.81 800.79 L491.08 802.28 L491.35 803.76 L491.62 805.25 L491.9 806.74 L492.18 808.22 L492.46 809.71 L492.74 811.19 L493.02 812.68 L493.3 814.16 L493.59 815.65 L493.87 817.13 L494.16 818.62 L494.45 820.1 L494.74 821.59 L495.03 823.07 L495.33 824.56 L495.62 826.04 L495.92 827.52 L496.22 829.01 L496.52 830.49 L496.82 831.97 L497.12 833.46 L497.43 834.94 L497.74 836.42 L498.05 837.9 L498.36 839.39 L498.67 840.87 L498.99 842.35 L499.3 843.83 L499.62 845.31 L499.94 846.79 L500.26 848.27 L500.59 849.75 L500.91 851.23 L501.24 852.71 L501.57 854.19 L501.9 855.67 L502.24 857.15 L502.57 858.63 L502.91 860.11 L503.25 861.59 L503.6 863.06 L503.94 864.54 L504.29 866.02 L504.64 867.49 L504.99 868.97 L505.34 870.44 L505.7 871.92 L506.06 873.39 L506.42 874.87 L506.78 876.34 L507.15 877.81 L507.51 879.28 L507.88 880.75 L508.26 882.22 L508.63 883.69 L509.01 885.16 L509.39 886.62 L509.78 888.09 L510.17 889.55 L510.56 891.02 L510.95 892.48 L511.34 893.94 L511.74 895.4 L512.14 896.86 L512.55 898.32 L512.95 899.78 L513.36 901.23 L513.78 902.69 L514.19 904.14 L514.61 905.6 L515.04 907.05 L515.46 908.5 L515.89 909.94 L516.32 911.39 L516.76 912.84 L517.2 914.28 L517.64 915.72 L518.09 917.16 L518.54 918.6 L518.99 920.04 L519.45 921.48 L519.91 922.91 L520.37 924.35 L520.84 925.78 L521.31 927.21 L521.78 928.63 L522.26 930.06 L522.74 931.48 L523.23 932.91 L523.72 934.33 L524.21 935.75 L524.71 937.16 L525.21 938.58 L525.71 939.99 L526.22 941.4 L526.73 942.81 L527.25 944.22 L527.77 945.62 L528.3 947.02 L528.83 948.42 L529.36 949.82 L529.9 951.22 L530.44 952.61 L530.99 954 L531.54 955.39 L532.09 956.78 L532.65 958.16 L533.22 959.54 L533.78 960.92 L534.36 962.3 L534.93 963.67 L535.52 965.04 L536.1 966.41 L536.69 967.78 L537.29 969.14 L537.89 970.5 L538.5 971.86 L539.1 973.22 L539.72 974.57 L540.34 975.92 L540.96 977.27 L541.59 978.62 L542.23 979.96 L542.87 981.3 L543.51 982.63 L544.16 983.97 L544.81 985.3 L545.47 986.62 L546.14 987.95 L546.81 989.27 L547.48 990.59 L548.16 991.9 L548.85 993.21 L549.54 994.52 L550.23 995.83 L550.94 997.13 L551.64 998.43 L552.35 999.72 L553.07 1001.02 L553.8 1002.31 L554.52 1003.59 L555.26 1004.87 L556 1006.15 L556.74 1007.43 L557.5 1008.7 L558.25 1009.97 L559.02 1011.23 L559.78 1012.49 L560.56 1013.75 L561.34 1015 L562.12 1016.25 L562.92 1017.5 L563.71 1018.74 L564.52 1019.98 L565.33 1021.22 L566.14 1022.45 L566.97 1023.68 L567.79 1024.9 L568.63 1026.12 L569.47 1027.33 L570.31 1028.55 L571.17 1029.75 L572.03 1030.96 L572.89 1032.16 L573.76 1033.35 L574.64 1034.54 L575.53 1035.73 L576.42 1036.91 L577.32 1038.09 L578.22 1039.27 L579.13 1040.44 L580.05 1041.6 L580.97 1042.76 L581.9 1043.92 L582.84 1045.08 L583.78 1046.22 L584.73 1047.37 L585.69 1048.51 L586.66 1049.64 L587.63 1050.77 L588.6 1051.9 L589.59 1053.02 L590.58 1054.14 L591.58 1055.25 L592.59 1056.36 L593.6 1057.46 L594.62 1058.56 L595.65 1059.65 L596.68 1060.74 L597.72 1061.82 L598.77 1062.9 L599.83 1063.97 L600.89 1065.04 L601.96 1066.11 L603.04 1067.16 L604.13 1068.22 L605.22 1069.27 L606.32 1070.31 L607.43 1071.35 L608.54 1072.38 L609.67 1073.41 L610.8 1074.43 L611.94 1075.45 L613.08 1076.47 L614.24 1077.47 L615.4 1078.47 L616.57 1079.47 L617.74 1080.46 L618.93 1081.45 L620.12 1082.43 L621.32 1083.4 L622.53 1084.37 L623.75 1085.34 L624.97 1086.3 L626.2 1087.25 L627.44 1088.2 L628.69 1089.14 L629.95 1090.07 L631.22 1091 L632.49 1091.93 L633.77 1092.85 L635.06 1093.76 L636.36 1094.67 L637.66 1095.57 L638.98 1096.47 L640.3 1097.36 L641.63 1098.24 L642.97 1099.12 L644.32 1099.99 L645.68 1100.85 L647.05 1101.71 L648.42 1102.57 L649.8 1103.42 L651.2 1104.26 L652.6 1105.09 L654.01 1105.92 L655.43 1106.74" stroke="#000000" stroke-width="2" fill="none" stroke-linejoin="round" stroke-dasharray="13.4 8.4"/>
<path d="M74.6 810.5 L84.8 814.9 L95 817.2 L105.3 814.9 L115.5 812.6 L124.8 811.1 L135.9 816.1 L146.1 836.5 L156.4 876.8 L165.1 919.1 L168 929.2 L176.8 964.2 L185.5 984.7 L195.8 993.4 L208.9 991.1 L223.5 980.3 L241 968.6 L250 965.3 L267.5 957.4 L285 956.5 L299.6 960.3 L314.2 967.6 L328.8 974.9 L339.6 976 L349.68 968.75 L359.89 954.07 L370.1 919.2 L380.31 882 L390.52 844.28 L400.73 802.58 L410.94 765.14 L421.15 737.84 L431.36 722.66 L441.57 720.27 L451.78 725.61 L461.99 742.52 L472.2 764.85 L482.41 790.01 L492.62 817.93 L502.83 847.67 L513.04 877.43 L523.25 905.42 L533.46 930.72 L543.67 953.37 L553.88 973.61 L564.09 991.69 L574.3 1007.85 L584.51 1022.32 L594.72 1035.27 L604.93 1046.88 L615.14 1057.28 L625.35 1066.58 L635.56 1074.9 L645.77 1082.32 L655.98 1088.91 L666.19 1094.75 L676.4 1099.9 L678.23 1100.75" stroke="#00e000" stroke-width="2.2" fill="none" stroke-linejoin="round"/>
<path d="M74.6 927.5 L86.3 925.8 L95 926.4 L103.8 928.5 L114 930.3 L124.8 930 L135.3 928.6 L145.3 930.2 L156.4 941 L165.1 959.9 L176.8 978.2 L185.5 986.1 L197.2 990.5 L211.8 992.8 L229.3 992 L246.9 994 L260 997.8 L267.5 999.7 L285 1008.5 L302.6 1017.8 L318.6 1025.1 L328.8 1023.1 L339 1012.8 L349.68 994.99 L359.89 964.34 L370.1 927.94 L380.31 887.33 L390.52 845.98 L400.73 808.4 L410.94 779.11 L421.15 760.92 L431.36 754.37 L441.57 756.76 L451.78 766.88 L461.99 785.39 L472.2 811.12 L482.41 838.75 L492.62 867.24 L502.83 895.34 L513.04 921.94 L523.25 946.39 L533.46 968.44 L543.67 988.11 L553.88 1005.55 L564.09 1020.99 L574.3 1034.64 L584.51 1046.73 L594.72 1057.42 L604.93 1066.89 L615.14 1075.27 L625.35 1082.82 L635.56 1089.75 L645.77 1096.2 L655.98 1102.29 L662.98 1106.31" stroke="#0000e0" stroke-width="2.2" fill="none" stroke-linejoin="round"/>
<path d="M74.6 982.3 L89.2 982.3 L103.8 983.2 L118.4 982.3 L134.5 980.9 L146.1 983.8 L156.4 990.5 L168 997.2 L182.6 1002.8 L200.1 1006.6 L217.7 1008.6 L235.2 1011.8 L246.9 1015.3 L260 1019.7 L267.5 1023.1 L285 1031.8 L299.6 1040.6 L311.3 1045.5 L320.1 1045.5 L330.3 1039.1 L340.5 1023.1 L349.68 999.77 L359.89 966.34 L370.1 929.35 L380.31 889.26 L390.52 850.03 L400.73 814.86 L410.94 786.67 L421.15 772.01 L431.36 765.73 L441.57 769.56 L451.78 780.04 L461.99 798.64 L472.2 825.32 L482.41 853.07 L492.62 880.55 L502.83 907.03 L513.04 931.96 L523.25 955.08 L533.46 976.32 L543.67 995.77 L553.88 1013.28 L564.09 1028.75 L574.3 1042.26 L584.51 1053.96 L594.72 1064.03 L604.93 1072.66 L615.14 1080.21 L625.35 1087.1 L635.56 1093.63 L645.77 1100.05 L654.03 1105.34" stroke="#e00000" stroke-width="2.2" fill="none" stroke-linejoin="round"/>
<path d="M74.6 968.6 L89.2 968.6 L103.8 969.2 L118.4 967.7 L134.5 966.3 L146.1 968.6 L156.4 976.5 L168 986.1 L182.6 994.9 L200.1 1002.8 L217.7 1008 L235.2 1012.4 L246.9 1016.8 L260 1024.1 L267.5 1026 L285 1037.7 L299.6 1045.8 L309.9 1050.2 L320.1 1050.2 L330.3 1043.5 L340.5 1026 L349.68 1000.14 L359.89 966.32 L370.1 929.69 L380.31 889.23 L390.52 849.66 L400.73 814.87 L410.94 787.75 L421.15 773.13 L431.36 766.41 L441.57 771.47 L451.78 783.16 L461.99 802.51 L472.2 829.01 L482.41 856.54 L492.62 883.95 L502.83 910.43 L513.04 935.38 L523.25 958.49 L533.46 979.67 L543.67 998.98 L553.88 1016.29 L564.09 1031.56 L574.3 1044.89 L584.51 1056.44 L594.72 1066.4 L604.93 1074.97 L615.14 1082.5 L625.35 1089.39 L635.56 1095.92 L645.77 1102.31 L653.33 1107.1" stroke="#000000" stroke-width="2.2" fill="none" stroke-linejoin="round"/>
</g>
<path d="M85.7 649.2 H127.2" stroke="#00e000" stroke-width="2.1"/>
<text x="130.8" y="655.2" font-size="17.6" text-anchor="start">EKS</text>
<path d="M85.7 668.8 H127.2" stroke="#0000e0" stroke-width="2.1"/>
<text x="130.8" y="674.8" font-size="17.6" text-anchor="start">CKS</text>
<path d="M85.7 688 H127.2" stroke="#e00000" stroke-width="2.1"/>
<text x="130.8" y="694" font-size="17.6" text-anchor="start">CNCKS</text>
<path d="M85.7 706.7 H127.2" stroke="#000000" stroke-width="2.1"/>
<text x="130.8" y="712.7" font-size="17.6" text-anchor="start">CN2CKS</text>
<path d="M541.2 648.5 h13.9 M562.9 648.5 H576.8" stroke="#00e000" stroke-width="2.1"/>
<text x="586.1" y="654.5" font-size="17.6" text-anchor="start">EKF</text>
<path d="M541.2 669 h13.9 M562.9 669 H576.8" stroke="#0000e0" stroke-width="2.1"/>
<text x="586.1" y="675" font-size="17.6" text-anchor="start">CKF</text>
<path d="M541.2 687.7 h13.9 M562.9 687.7 H576.8" stroke="#e00000" stroke-width="2.1"/>
<text x="586.1" y="693.7" font-size="17.6" text-anchor="start">CNCKF</text>
<path d="M541.2 706 h13.9 M562.9 706 H576.8" stroke="#000000" stroke-width="2.1"/>
<text x="586.1" y="712" font-size="17.6" text-anchor="start">CN2CKF</text>
<clipPath id="c3"><rect x="56.4" y="1239.5" width="612.5" height="482.1"/></clipPath>
<path d="M56.4 1721.6 V1715 M56.4 1239.5 V1246.1 M158.48 1721.6 V1715 M158.48 1239.5 V1246.1 M260.57 1721.6 V1715 M260.57 1239.5 V1246.1 M362.65 1721.6 V1715 M362.65 1239.5 V1246.1 M464.73 1721.6 V1715 M464.73 1239.5 V1246.1 M566.82 1721.6 V1715 M566.82 1239.5 V1246.1 M668.9 1721.6 V1715 M668.9 1239.5 V1246.1 M56.4 1721.6 H63 M668.9 1721.6 H662.3 M56.4 1601.07 H63 M668.9 1601.07 H662.3 M56.4 1480.55 H63 M668.9 1480.55 H662.3 M56.4 1360.03 H63 M668.9 1360.03 H662.3 M56.4 1239.5 H63 M668.9 1239.5 H662.3 " stroke="#262626" stroke-width="1.3" fill="none"/>
<rect x="56.4" y="1239.5" width="612.5" height="482.1" stroke="#262626" stroke-width="1.6" fill="none"/>
<text x="56.4" y="1743.8" font-size="17.6" text-anchor="middle">0</text>
<text x="158.48" y="1743.8" font-size="17.6" text-anchor="middle">5</text>
<text x="260.57" y="1743.8" font-size="17.6" text-anchor="middle">10</text>
<text x="362.65" y="1743.8" font-size="17.6" text-anchor="middle">15</text>
<text x="464.73" y="1743.8" font-size="17.6" text-anchor="middle">20</text>
<text x="566.82" y="1743.8" font-size="17.6" text-anchor="middle">25</text>
<text x="668.9" y="1743.8" font-size="17.6" text-anchor="middle">30</text>
<text x="48.6" y="1727.5" font-size="17.6" text-anchor="end">2</text>
<text x="48.6" y="1606.97" font-size="17.6" text-anchor="end">2.5</text>
<text x="48.6" y="1486.45" font-size="17.6" text-anchor="end">3</text>
<text x="48.6" y="1365.93" font-size="17.6" text-anchor="end">3.5</text>
<text x="48.6" y="1245.4" font-size="17.6" text-anchor="end">4</text>
<text x="362.65" y="1765.1" font-size="20.8" text-anchor="middle">Time</text>
<text transform="translate(15 1480.6) rotate(-90)" font-size="20.8" text-anchor="middle">RMSE - ballistic coef.</text>
<text x="57.8" y="1237.8" font-size="19.6" text-anchor="start">×</text>
<text x="71.8" y="1236" font-size="18.2" text-anchor="start">10</text>
<text x="92" y="1228.6" font-size="13.8" text-anchor="start">-6</text>
<g clip-path="url(#c3)">
<path d="M66.6 1599.6 H668.9" stroke="#00e000" stroke-width="2.2" fill="none" stroke-linejoin="round"/>
<path d="M66.6 1660.3 H668.9" stroke="#0000e0" stroke-width="2.2" fill="none" stroke-linejoin="round"/>
<path d="M66.6 1677.3 H668.9" stroke="#e00000" stroke-width="2.2" fill="none" stroke-linejoin="round"/>
<path d="M66.6 1680.8 H668.9" stroke="#000000" stroke-width="2.2" fill="none" stroke-linejoin="round"/>
<path d="M458.47 1239.21 L458.68 1240.73 L458.9 1242.24 L459.11 1243.76 L459.32 1245.27 L459.53 1246.78 L459.74 1248.29 L459.95 1249.81 L460.16 1251.32 L460.37 1252.83 L460.57 1254.34 L460.78 1255.85 L460.98 1257.36 L461.19 1258.87 L461.39 1260.38 L461.6 1261.89 L461.8 1263.4 L462 1264.91 L462.21 1266.41 L462.41 1267.92 L462.61 1269.43 L462.81 1270.94 L463.01 1272.44 L463.21 1273.95 L463.41 1275.45 L463.61 1276.96 L463.81 1278.46 L464.01 1279.97 L464.21 1281.47 L464.41 1282.98 L464.61 1284.48 L464.81 1285.98 L465.01 1287.48 L465.21 1288.99 L465.41 1290.49 L465.61 1291.99 L465.81 1293.49 L466.01 1294.99 L466.21 1296.49 L466.41 1297.99 L466.61 1299.49 L466.82 1300.99 L467.02 1302.48 L467.22 1303.98 L467.42 1305.48 L467.62 1306.98 L467.83 1308.47 L468.03 1309.97 L468.24 1311.46 L468.44 1312.96 L468.65 1314.45 L468.85 1315.95 L469.06 1317.44 L469.27 1318.93 L469.48 1320.43 L469.68 1321.92 L469.89 1323.41 L470.1 1324.9 L470.32 1326.4 L470.53 1327.89 L470.74 1329.38 L470.96 1330.87 L471.17 1332.36 L471.39 1333.84 L471.61 1335.33 L471.82 1336.82 L472.04 1338.31 L472.26 1339.8 L472.49 1341.28 L472.71 1342.77 L472.93 1344.25 L473.16 1345.74 L473.39 1347.22 L473.61 1348.71 L473.84 1350.19 L474.08 1351.68 L474.31 1353.16 L474.54 1354.64 L474.78 1356.12 L475.02 1357.6 L475.25 1359.09 L475.49 1360.57 L475.74 1362.05 L475.98 1363.53 L476.22 1365.01 L476.47 1366.48 L476.72 1367.96 L476.97 1369.44 L477.22 1370.92 L477.48 1372.39 L477.73 1373.87 L477.99 1375.35 L478.25 1376.82 L478.51 1378.3 L478.78 1379.77 L479.05 1381.24 L479.31 1382.72 L479.58 1384.19 L479.86 1385.66 L480.13 1387.14 L480.41 1388.61 L480.69 1390.08 L480.97 1391.55 L481.25 1393.02 L481.54 1394.49 L481.83 1395.96 L482.12 1397.42 L482.41 1398.89 L482.71 1400.36 L483.01 1401.83 L483.31 1403.29 L483.61 1404.76 L483.92 1406.22 L484.23 1407.69 L484.54 1409.15 L484.85 1410.62 L485.17 1412.08 L485.49 1413.54 L485.81 1415.01 L486.14 1416.47 L486.47 1417.93 L486.8 1419.39 L487.13 1420.85 L487.47 1422.31 L487.81 1423.77 L488.15 1425.23 L488.5 1426.68 L488.85 1428.14 L489.2 1429.6 L489.56 1431.05 L489.91 1432.51 L490.28 1433.97 L490.64 1435.42 L491.01 1436.88 L491.38 1438.33 L491.76 1439.78 L492.14 1441.23 L492.52 1442.69 L492.9 1444.14 L493.29 1445.59 L493.69 1447.04 L494.08 1448.49 L494.48 1449.94 L494.89 1451.39 L495.29 1452.84 L495.7 1454.28 L496.12 1455.73 L496.54 1457.18 L496.96 1458.62 L497.38 1460.07 L497.81 1461.51 L498.25 1462.96 L498.68 1464.4 L499.12 1465.85 L499.57 1467.29 L500.02 1468.73 L500.47 1470.17 L500.93 1471.61 L501.39 1473.05 L501.86 1474.49 L502.33 1475.93 L502.8 1477.37 L503.28 1478.81 L503.76 1480.25 L504.25 1481.68 L504.74 1483.12 L505.24 1484.56 L505.74 1485.99 L506.24 1487.43 L506.75 1488.86 L507.26 1490.29 L507.78 1491.73 L508.3 1493.16 L508.83 1494.59 L509.36 1496.02 L509.9 1497.45 L510.44 1498.88 L510.99 1500.31 L511.54 1501.74 L512.09 1503.17 L512.65 1504.6 L513.22 1506.02 L513.79 1507.45 L514.36 1508.88 L514.94 1510.3 L515.53 1511.73 L516.12 1513.15 L516.71 1514.57 L517.31 1515.99 L517.92 1517.41 L518.53 1518.83 L519.15 1520.24 L519.77 1521.65 L520.4 1523.06 L521.04 1524.47 L521.69 1525.87 L522.34 1527.26 L523 1528.66 L523.66 1530.04 L524.34 1531.42 L525.02 1532.8 L525.71 1534.17 L526.41 1535.53 L527.12 1536.89 L527.83 1538.24 L528.56 1539.58 L529.29 1540.91 L530.04 1542.24 L530.79 1543.56 L531.55 1544.86 L532.32 1546.16 L533.1 1547.45 L533.9 1548.73 L534.7 1550 L535.51 1551.26 L536.34 1552.51 L537.17 1553.75 L538.02 1554.97 L538.88 1556.19 L539.75 1557.39 L540.63 1558.58 L541.52 1559.75 L542.43 1560.92 L543.34 1562.06 L544.27 1563.2 L545.22 1564.32 L546.17 1565.43 L547.14 1566.52 L548.13 1567.59 L549.12 1568.65 L550.13 1569.69 L551.16 1570.72 L552.2 1571.73 L553.25 1572.72 L554.32 1573.7 L555.4 1574.66 L556.5 1575.59 L557.61 1576.52 L558.74 1577.42 L559.88 1578.3 L561.04 1579.16 L562.21 1580.01 L563.4 1580.83 L564.61 1581.63 L565.84 1582.41 L567.07 1583.17 L568.33 1583.92 L569.6 1584.64 L570.88 1585.34 L572.18 1586.02 L573.49 1586.69 L574.81 1587.33 L576.15 1587.96 L577.5 1588.57 L578.86 1589.16 L580.23 1589.73 L581.62 1590.28 L583.01 1590.82 L584.42 1591.34 L585.83 1591.84 L587.26 1592.32 L588.7 1592.79 L590.14 1593.24 L591.59 1593.67 L593.06 1594.09 L594.53 1594.49 L596 1594.87 L597.49 1595.24 L598.98 1595.6 L600.48 1595.94 L601.98 1596.26 L603.49 1596.57 L605 1596.86 L606.52 1597.14 L608.05 1597.41 L609.58 1597.66 L611.11 1597.89 L612.64 1598.12 L614.18 1598.33 L615.72 1598.52 L617.27 1598.71 L618.81 1598.88 L620.36 1599.03 L621.91 1599.18 L623.46 1599.31 L625.01 1599.43 L626.56 1599.5 L628.11 1599.5 L629.65 1599.5 L631.2 1599.5 L632.75 1599.5 L634.29 1599.5 L635.83 1599.5 L637.37 1599.5 L638.91 1599.5 L640.44 1599.5 L641.97 1599.5 L643.49 1599.5 L645.01 1599.5 L646.53 1599.5 L648.04 1599.5 L649.54 1599.5 L651.04 1599.5 L652.53 1599.5 L654.02 1599.5 L655.5 1599.5 L656.97 1599.5 L658.43 1599.43 L659.88 1599.33 L661.33 1599.22 L662.76 1599.1 L664.19 1598.98 L665.61 1598.85 L667.01 1598.71 L668.41 1598.57 L669.8 1598.42" stroke="#00e000" stroke-width="2" fill="none" stroke-linejoin="round" stroke-dasharray="13.4 8.4"/>
<path d="M445.52 1239.34 L445.72 1240.85 L445.93 1242.36 L446.13 1243.87 L446.33 1245.38 L446.53 1246.89 L446.73 1248.39 L446.93 1249.9 L447.13 1251.41 L447.33 1252.92 L447.53 1254.43 L447.72 1255.94 L447.92 1257.44 L448.12 1258.95 L448.31 1260.46 L448.51 1261.96 L448.7 1263.47 L448.89 1264.98 L449.09 1266.48 L449.28 1267.99 L449.47 1269.5 L449.66 1271 L449.85 1272.51 L450.04 1274.01 L450.24 1275.52 L450.43 1277.02 L450.62 1278.53 L450.8 1280.03 L450.99 1281.54 L451.18 1283.04 L451.37 1284.54 L451.56 1286.05 L451.75 1287.55 L451.94 1289.05 L452.13 1290.56 L452.31 1292.06 L452.5 1293.56 L452.69 1295.06 L452.88 1296.57 L453.07 1298.07 L453.25 1299.57 L453.44 1301.07 L453.63 1302.57 L453.82 1304.07 L454.01 1305.57 L454.19 1307.07 L454.38 1308.57 L454.57 1310.07 L454.76 1311.57 L454.95 1313.07 L455.14 1314.57 L455.33 1316.07 L455.52 1317.57 L455.71 1319.06 L455.9 1320.56 L456.09 1322.06 L456.28 1323.56 L456.47 1325.05 L456.67 1326.55 L456.86 1328.05 L457.05 1329.54 L457.25 1331.04 L457.44 1332.54 L457.63 1334.03 L457.83 1335.53 L458.02 1337.02 L458.22 1338.52 L458.42 1340.01 L458.62 1341.5 L458.81 1343 L459.01 1344.49 L459.21 1345.98 L459.41 1347.48 L459.62 1348.97 L459.82 1350.46 L460.02 1351.95 L460.22 1353.45 L460.43 1354.94 L460.63 1356.43 L460.84 1357.92 L461.05 1359.41 L461.26 1360.9 L461.47 1362.39 L461.68 1363.88 L461.89 1365.37 L462.1 1366.86 L462.31 1368.35 L462.53 1369.83 L462.74 1371.32 L462.96 1372.81 L463.18 1374.3 L463.4 1375.78 L463.62 1377.27 L463.84 1378.76 L464.06 1380.24 L464.29 1381.73 L464.51 1383.21 L464.74 1384.7 L464.97 1386.18 L465.2 1387.67 L465.43 1389.15 L465.66 1390.64 L465.9 1392.12 L466.13 1393.6 L466.37 1395.09 L466.61 1396.57 L466.85 1398.05 L467.09 1399.53 L467.33 1401.01 L467.57 1402.5 L467.82 1403.98 L468.07 1405.46 L468.32 1406.94 L468.57 1408.42 L468.82 1409.9 L469.08 1411.37 L469.33 1412.85 L469.59 1414.33 L469.85 1415.81 L470.11 1417.29 L470.38 1418.76 L470.64 1420.24 L470.91 1421.72 L471.18 1423.19 L471.45 1424.67 L471.72 1426.14 L472 1427.62 L472.28 1429.09 L472.56 1430.57 L472.84 1432.04 L473.12 1433.51 L473.41 1434.99 L473.69 1436.46 L473.98 1437.93 L474.28 1439.4 L474.57 1440.88 L474.87 1442.35 L475.17 1443.82 L475.47 1445.29 L475.77 1446.76 L476.08 1448.23 L476.38 1449.7 L476.69 1451.17 L477.01 1452.63 L477.32 1454.1 L477.64 1455.57 L477.96 1457.04 L478.28 1458.5 L478.61 1459.97 L478.93 1461.44 L479.26 1462.9 L479.6 1464.37 L479.93 1465.83 L480.27 1467.3 L480.61 1468.76 L480.95 1470.22 L481.3 1471.69 L481.65 1473.15 L482 1474.61 L482.35 1476.07 L482.71 1477.53 L483.07 1479 L483.43 1480.46 L483.8 1481.92 L484.17 1483.38 L484.54 1484.84 L484.91 1486.29 L485.29 1487.75 L485.67 1489.21 L486.05 1490.67 L486.44 1492.12 L486.83 1493.58 L487.22 1495.04 L487.61 1496.49 L488.01 1497.95 L488.41 1499.4 L488.82 1500.86 L489.22 1502.31 L489.63 1503.77 L490.05 1505.22 L490.46 1506.67 L490.89 1508.12 L491.31 1509.58 L491.74 1511.03 L492.17 1512.48 L492.6 1513.93 L493.04 1515.38 L493.48 1516.83 L493.92 1518.28 L494.37 1519.72 L494.82 1521.17 L495.27 1522.62 L495.73 1524.07 L496.19 1525.51 L496.66 1526.96 L497.13 1528.41 L497.6 1529.85 L498.07 1531.3 L498.55 1532.74 L499.04 1534.18 L499.52 1535.63 L500.01 1537.07 L500.51 1538.51 L501 1539.95 L501.51 1541.39 L502.01 1542.84 L502.52 1544.28 L503.04 1545.71 L503.55 1547.15 L504.08 1548.59 L504.6 1550.03 L505.13 1551.46 L505.67 1552.89 L506.21 1554.32 L506.76 1555.75 L507.31 1557.18 L507.86 1558.6 L508.43 1560.03 L508.99 1561.44 L509.57 1562.86 L510.14 1564.27 L510.73 1565.68 L511.32 1567.09 L511.92 1568.5 L512.52 1569.9 L513.13 1571.29 L513.75 1572.68 L514.37 1574.07 L515 1575.46 L515.64 1576.83 L516.28 1578.21 L516.94 1579.58 L517.6 1580.94 L518.26 1582.3 L518.94 1583.66 L519.62 1585.01 L520.31 1586.35 L521.01 1587.69 L521.72 1589.02 L522.43 1590.35 L523.16 1591.67 L523.89 1592.98 L524.63 1594.29 L525.38 1595.59 L526.14 1596.88 L526.91 1598.16 L527.68 1599.44 L528.47 1600.71 L529.27 1601.98 L530.07 1603.23 L530.89 1604.48 L531.72 1605.72 L532.55 1606.95 L533.4 1608.17 L534.26 1609.39 L535.12 1610.59 L536 1611.79 L536.89 1612.98 L537.79 1614.16 L538.7 1615.33 L539.63 1616.49 L540.56 1617.64 L541.5 1618.78 L542.46 1619.91 L543.43 1621.03 L544.41 1622.14 L545.4 1623.23 L546.41 1624.32 L547.42 1625.4 L548.45 1626.47 L549.49 1627.52 L550.55 1628.57 L551.61 1629.6 L552.69 1630.62 L553.79 1631.63 L554.89 1632.62 L556.01 1633.6 L557.13 1634.57 L558.28 1635.53 L559.43 1636.47 L560.59 1637.39 L561.77 1638.31 L562.96 1639.2 L564.15 1640.08 L565.36 1640.95 L566.59 1641.8 L567.82 1642.63 L569.06 1643.45 L570.31 1644.25 L571.58 1645.03 L572.85 1645.8 L574.14 1646.54 L575.44 1647.27 L576.74 1647.98 L578.06 1648.67 L579.38 1649.34 L580.72 1649.99 L582.07 1650.62 L583.42 1651.23 L584.79 1651.82 L586.16 1652.38 L587.55 1652.93 L588.94 1653.45 L590.34 1653.95 L591.75 1654.43 L593.17 1654.89 L594.6 1655.32 L596.04 1655.73 L597.48 1656.12 L598.93 1656.48 L600.39 1656.83 L601.86 1657.15 L603.34 1657.45 L604.82 1657.74 L606.3 1658 L607.8 1658.25 L609.3 1658.47 L610.8 1658.68 L612.31 1658.87 L613.82 1659.05 L615.34 1659.21 L616.86 1659.36 L618.38 1659.49 L619.91 1659.6 L621.44 1659.7 L622.98 1659.79 L624.51 1659.87 L626.05 1659.93 L627.59 1659.99 L629.13 1660.03 L630.68 1660.06 L632.22 1660.08 L633.76 1660.09 L635.31 1660.1 L636.85 1660.09 L638.39 1660.08 L639.94 1660.06 L641.48 1660.03 L643.02 1660 L644.55 1659.96 L646.09 1659.92 L647.62 1659.88 L649.15 1659.82 L650.68 1659.77 L652.2 1659.71 L653.72 1659.65 L655.24 1659.59 L656.75 1659.53 L658.26 1659.47 L659.76 1659.41 L661.26 1659.35 L662.75 1659.29 L664.23 1659.23 L665.71 1659.17 L667.18 1659.12 L668.65 1659.07 L670.1 1659.02" stroke="#0000e0" stroke-width="2" fill="none" stroke-linejoin="round" stroke-dasharray="13.4 8.4"/>
<path d="M441.39 1239.57 L441.62 1241.06 L441.84 1242.55 L442.06 1244.04 L442.28 1245.53 L442.49 1247.02 L442.71 1248.51 L442.92 1250 L443.14 1251.5 L443.35 1252.99 L443.56 1254.48 L443.77 1255.97 L443.98 1257.46 L444.18 1258.96 L444.39 1260.45 L444.6 1261.94 L444.8 1263.44 L445 1264.93 L445.2 1266.42 L445.41 1267.92 L445.61 1269.41 L445.8 1270.9 L446 1272.4 L446.2 1273.89 L446.4 1275.39 L446.59 1276.88 L446.79 1278.38 L446.98 1279.87 L447.17 1281.37 L447.37 1282.87 L447.56 1284.36 L447.75 1285.86 L447.94 1287.35 L448.13 1288.85 L448.32 1290.35 L448.51 1291.84 L448.7 1293.34 L448.89 1294.84 L449.07 1296.33 L449.26 1297.83 L449.45 1299.33 L449.63 1300.83 L449.82 1302.32 L450 1303.82 L450.19 1305.32 L450.37 1306.81 L450.56 1308.31 L450.74 1309.81 L450.93 1311.31 L451.11 1312.81 L451.29 1314.3 L451.48 1315.8 L451.66 1317.3 L451.84 1318.8 L452.03 1320.29 L452.21 1321.79 L452.39 1323.29 L452.57 1324.79 L452.76 1326.29 L452.94 1327.78 L453.12 1329.28 L453.31 1330.78 L453.49 1332.28 L453.68 1333.77 L453.86 1335.27 L454.04 1336.77 L454.23 1338.27 L454.41 1339.76 L454.6 1341.26 L454.78 1342.76 L454.97 1344.26 L455.15 1345.75 L455.34 1347.25 L455.53 1348.75 L455.72 1350.24 L455.9 1351.74 L456.09 1353.24 L456.28 1354.73 L456.47 1356.23 L456.66 1357.73 L456.85 1359.22 L457.04 1360.72 L457.23 1362.22 L457.43 1363.71 L457.62 1365.21 L457.81 1366.7 L458.01 1368.2 L458.2 1369.69 L458.4 1371.19 L458.6 1372.68 L458.8 1374.18 L458.99 1375.67 L459.2 1377.16 L459.4 1378.66 L459.6 1380.15 L459.8 1381.65 L460 1383.14 L460.21 1384.63 L460.42 1386.13 L460.62 1387.62 L460.83 1389.11 L461.04 1390.6 L461.25 1392.09 L461.46 1393.59 L461.68 1395.08 L461.89 1396.57 L462.11 1398.06 L462.32 1399.55 L462.54 1401.04 L462.76 1402.53 L462.98 1404.02 L463.21 1405.51 L463.43 1407 L463.66 1408.48 L463.88 1409.97 L464.11 1411.46 L464.34 1412.95 L464.57 1414.44 L464.81 1415.92 L465.04 1417.41 L465.28 1418.89 L465.52 1420.38 L465.76 1421.87 L466 1423.35 L466.24 1424.84 L466.49 1426.32 L466.74 1427.8 L466.98 1429.29 L467.24 1430.77 L467.49 1432.25 L467.74 1433.73 L468 1435.22 L468.26 1436.7 L468.52 1438.18 L468.78 1439.66 L469.05 1441.14 L469.31 1442.62 L469.58 1444.1 L469.85 1445.58 L470.13 1447.05 L470.4 1448.53 L470.68 1450.01 L470.96 1451.49 L471.24 1452.96 L471.52 1454.44 L471.81 1455.91 L472.1 1457.39 L472.39 1458.86 L472.69 1460.34 L472.98 1461.81 L473.28 1463.28 L473.58 1464.75 L473.88 1466.22 L474.19 1467.7 L474.5 1469.17 L474.81 1470.64 L475.12 1472.1 L475.44 1473.57 L475.76 1475.04 L476.08 1476.51 L476.41 1477.98 L476.73 1479.44 L477.06 1480.91 L477.4 1482.37 L477.73 1483.84 L478.07 1485.3 L478.41 1486.76 L478.76 1488.23 L479.1 1489.69 L479.45 1491.15 L479.81 1492.61 L480.16 1494.07 L480.52 1495.53 L480.88 1496.99 L481.25 1498.45 L481.62 1499.9 L481.99 1501.36 L482.36 1502.82 L482.74 1504.27 L483.12 1505.73 L483.5 1507.18 L483.89 1508.63 L484.28 1510.09 L484.68 1511.54 L485.07 1512.99 L485.47 1514.44 L485.88 1515.89 L486.29 1517.34 L486.7 1518.78 L487.11 1520.23 L487.53 1521.68 L487.95 1523.12 L488.38 1524.57 L488.8 1526.01 L489.24 1527.46 L489.67 1528.9 L490.11 1530.34 L490.55 1531.78 L491 1533.22 L491.45 1534.66 L491.9 1536.1 L492.36 1537.54 L492.82 1538.97 L493.29 1540.41 L493.76 1541.85 L494.23 1543.28 L494.71 1544.71 L495.19 1546.15 L495.68 1547.58 L496.17 1549.01 L496.66 1550.44 L497.16 1551.87 L497.66 1553.3 L498.16 1554.72 L498.67 1556.15 L499.19 1557.57 L499.7 1559 L500.23 1560.42 L500.75 1561.85 L501.28 1563.27 L501.82 1564.69 L502.36 1566.11 L502.9 1567.53 L503.45 1568.95 L504 1570.36 L504.55 1571.78 L505.12 1573.19 L505.68 1574.61 L506.25 1576.02 L506.83 1577.43 L507.4 1578.84 L507.99 1580.25 L508.58 1581.66 L509.17 1583.07 L509.77 1584.47 L510.38 1585.87 L510.99 1587.27 L511.61 1588.66 L512.23 1590.05 L512.86 1591.44 L513.49 1592.83 L514.14 1594.21 L514.79 1595.59 L515.44 1596.96 L516.1 1598.33 L516.77 1599.7 L517.45 1601.06 L518.13 1602.41 L518.82 1603.76 L519.52 1605.11 L520.23 1606.45 L520.95 1607.78 L521.67 1609.11 L522.4 1610.43 L523.14 1611.75 L523.89 1613.06 L524.65 1614.36 L525.41 1615.65 L526.19 1616.94 L526.97 1618.22 L527.77 1619.5 L528.57 1620.76 L529.38 1622.02 L530.21 1623.27 L531.04 1624.51 L531.88 1625.74 L532.74 1626.97 L533.6 1628.18 L534.48 1629.39 L535.36 1630.58 L536.26 1631.77 L537.16 1632.95 L538.08 1634.11 L539.01 1635.27 L539.95 1636.42 L540.91 1637.55 L541.87 1638.68 L542.85 1639.79 L543.84 1640.89 L544.84 1641.98 L545.85 1643.06 L546.88 1644.13 L547.92 1645.19 L548.97 1646.23 L550.03 1647.26 L551.11 1648.28 L552.2 1649.28 L553.31 1650.28 L554.43 1651.25 L555.56 1652.22 L556.7 1653.17 L557.85 1654.11 L559.02 1655.03 L560.2 1655.93 L561.4 1656.83 L562.6 1657.7 L563.82 1658.56 L565.04 1659.41 L566.28 1660.24 L567.53 1661.05 L568.8 1661.84 L570.07 1662.62 L571.35 1663.38 L572.65 1664.12 L573.95 1664.85 L575.27 1665.55 L576.59 1666.24 L577.93 1666.91 L579.27 1667.56 L580.63 1668.19 L581.99 1668.8 L583.37 1669.39 L584.75 1669.95 L586.14 1670.5 L587.55 1671.03 L588.96 1671.54 L590.38 1672.02 L591.8 1672.49 L593.24 1672.93 L594.68 1673.36 L596.13 1673.76 L597.59 1674.15 L599.05 1674.52 L600.53 1674.86 L602 1675.19 L603.49 1675.51 L604.97 1675.8 L606.47 1676.08 L607.97 1676.34 L609.47 1676.58 L610.98 1676.81 L612.49 1677.02 L614.01 1677.2 L615.53 1677.2 L617.05 1677.2 L618.57 1677.2 L620.1 1677.2 L621.63 1677.2 L623.17 1677.2 L624.7 1677.2 L626.24 1677.2 L627.77 1677.2 L629.31 1677.2 L630.85 1677.2 L632.39 1677.2 L633.93 1677.2 L635.47 1677.2 L637 1677.2 L638.54 1677.2 L640.08 1677.2 L641.61 1677.2 L643.14 1677.2 L644.67 1677.2 L646.2 1677.2 L647.73 1677.2 L649.25 1677.2 L650.77 1677.2 L652.28 1677.2 L653.79 1677.2 L655.3 1677.2 L656.8 1677.2 L658.3 1677.2 L659.79 1677.2 L661.28 1677.2 L662.76 1677.2 L664.24 1677.18 L665.71 1677.05 L667.17 1676.92 L668.62 1676.78 L670.07 1676.64" stroke="#e00000" stroke-width="2" fill="none" stroke-linejoin="round" stroke-dasharray="13.4 8.4"/>
<path d="M441.21 1239.3 L441.4 1240.81 L441.58 1242.32 L441.77 1243.83 L441.96 1245.34 L442.14 1246.85 L442.33 1248.36 L442.51 1249.86 L442.69 1251.37 L442.88 1252.88 L443.06 1254.39 L443.24 1255.89 L443.43 1257.4 L443.61 1258.91 L443.79 1260.41 L443.97 1261.92 L444.15 1263.43 L444.33 1264.93 L444.51 1266.44 L444.69 1267.94 L444.87 1269.45 L445.05 1270.95 L445.23 1272.45 L445.41 1273.96 L445.59 1275.46 L445.77 1276.97 L445.95 1278.47 L446.13 1279.97 L446.31 1281.47 L446.49 1282.98 L446.67 1284.48 L446.85 1285.98 L447.03 1287.48 L447.2 1288.98 L447.38 1290.48 L447.56 1291.98 L447.74 1293.49 L447.92 1294.99 L448.1 1296.49 L448.28 1297.99 L448.46 1299.48 L448.64 1300.98 L448.82 1302.48 L449 1303.98 L449.18 1305.48 L449.36 1306.98 L449.54 1308.48 L449.72 1309.97 L449.9 1311.47 L450.08 1312.97 L450.26 1314.46 L450.44 1315.96 L450.62 1317.46 L450.81 1318.95 L450.99 1320.45 L451.17 1321.95 L451.36 1323.44 L451.54 1324.94 L451.73 1326.43 L451.91 1327.92 L452.1 1329.42 L452.28 1330.91 L452.47 1332.41 L452.66 1333.9 L452.84 1335.39 L453.03 1336.89 L453.22 1338.38 L453.41 1339.87 L453.6 1341.36 L453.79 1342.86 L453.98 1344.35 L454.17 1345.84 L454.37 1347.33 L454.56 1348.82 L454.75 1350.31 L454.95 1351.8 L455.14 1353.29 L455.34 1354.78 L455.54 1356.27 L455.74 1357.76 L455.93 1359.25 L456.13 1360.74 L456.33 1362.23 L456.54 1363.72 L456.74 1365.2 L456.94 1366.69 L457.15 1368.18 L457.35 1369.67 L457.56 1371.15 L457.76 1372.64 L457.97 1374.13 L458.18 1375.61 L458.39 1377.1 L458.6 1378.59 L458.82 1380.07 L459.03 1381.56 L459.24 1383.04 L459.46 1384.53 L459.68 1386.01 L459.89 1387.5 L460.11 1388.98 L460.33 1390.46 L460.56 1391.95 L460.78 1393.43 L461 1394.91 L461.23 1396.4 L461.46 1397.88 L461.68 1399.36 L461.91 1400.84 L462.14 1402.32 L462.38 1403.81 L462.61 1405.29 L462.85 1406.77 L463.08 1408.25 L463.32 1409.73 L463.56 1411.21 L463.8 1412.69 L464.04 1414.17 L464.29 1415.65 L464.53 1417.13 L464.78 1418.61 L465.03 1420.09 L465.28 1421.57 L465.53 1423.04 L465.78 1424.52 L466.04 1426 L466.29 1427.48 L466.55 1428.96 L466.81 1430.43 L467.07 1431.91 L467.34 1433.39 L467.6 1434.86 L467.87 1436.34 L468.14 1437.81 L468.41 1439.29 L468.68 1440.77 L468.95 1442.24 L469.23 1443.72 L469.51 1445.19 L469.79 1446.67 L470.07 1448.14 L470.35 1449.61 L470.64 1451.09 L470.92 1452.56 L471.21 1454.03 L471.5 1455.51 L471.8 1456.98 L472.09 1458.45 L472.39 1459.92 L472.69 1461.4 L472.99 1462.87 L473.29 1464.34 L473.6 1465.81 L473.91 1467.28 L474.22 1468.75 L474.53 1470.22 L474.84 1471.69 L475.16 1473.16 L475.48 1474.63 L475.8 1476.1 L476.12 1477.57 L476.45 1479.04 L476.78 1480.51 L477.11 1481.98 L477.44 1483.45 L477.77 1484.92 L478.11 1486.38 L478.45 1487.85 L478.79 1489.32 L479.14 1490.79 L479.48 1492.25 L479.83 1493.72 L480.19 1495.19 L480.54 1496.65 L480.9 1498.12 L481.26 1499.59 L481.62 1501.05 L481.98 1502.52 L482.35 1503.98 L482.72 1505.45 L483.09 1506.91 L483.47 1508.38 L483.84 1509.84 L484.22 1511.3 L484.61 1512.77 L484.99 1514.23 L485.38 1515.69 L485.77 1517.16 L486.16 1518.62 L486.56 1520.08 L486.96 1521.55 L487.36 1523.01 L487.77 1524.47 L488.17 1525.93 L488.58 1527.39 L489 1528.85 L489.41 1530.31 L489.83 1531.77 L490.26 1533.24 L490.68 1534.7 L491.11 1536.16 L491.54 1537.62 L491.97 1539.07 L492.41 1540.53 L492.85 1541.99 L493.29 1543.45 L493.74 1544.91 L494.19 1546.37 L494.64 1547.83 L495.1 1549.28 L495.56 1550.74 L496.02 1552.19 L496.49 1553.65 L496.96 1555.1 L497.44 1556.55 L497.92 1558 L498.4 1559.45 L498.89 1560.9 L499.38 1562.34 L499.88 1563.79 L500.38 1565.23 L500.89 1566.67 L501.4 1568.1 L501.92 1569.54 L502.44 1570.97 L502.97 1572.4 L503.5 1573.83 L504.04 1575.25 L504.58 1576.67 L505.13 1578.09 L505.69 1579.51 L506.25 1580.92 L506.82 1582.33 L507.39 1583.73 L507.97 1585.13 L508.55 1586.53 L509.15 1587.93 L509.75 1589.32 L510.35 1590.7 L510.96 1592.08 L511.58 1593.46 L512.21 1594.83 L512.84 1596.2 L513.48 1597.57 L514.13 1598.92 L514.78 1600.28 L515.45 1601.63 L516.12 1602.97 L516.79 1604.31 L517.48 1605.64 L518.17 1606.97 L518.87 1608.29 L519.58 1609.61 L520.3 1610.92 L521.03 1612.23 L521.76 1613.53 L522.51 1614.82 L523.26 1616.11 L524.02 1617.39 L524.79 1618.66 L525.57 1619.93 L526.36 1621.19 L527.15 1622.44 L527.96 1623.69 L528.78 1624.93 L529.6 1626.16 L530.44 1627.38 L531.28 1628.6 L532.14 1629.81 L533.01 1631.01 L533.88 1632.21 L534.77 1633.39 L535.66 1634.57 L536.57 1635.74 L537.49 1636.91 L538.41 1638.06 L539.35 1639.21 L540.3 1640.34 L541.26 1641.47 L542.23 1642.59 L543.22 1643.7 L544.21 1644.8 L545.22 1645.89 L546.23 1646.98 L547.26 1648.05 L548.3 1649.11 L549.35 1650.17 L550.42 1651.21 L551.49 1652.25 L552.58 1653.27 L553.68 1654.28 L554.79 1655.28 L555.91 1656.27 L557.05 1657.24 L558.19 1658.2 L559.35 1659.15 L560.52 1660.08 L561.7 1661 L562.89 1661.91 L564.09 1662.8 L565.3 1663.67 L566.52 1664.53 L567.76 1665.37 L569 1666.19 L570.26 1667 L571.52 1667.78 L572.8 1668.55 L574.09 1669.3 L575.39 1670.03 L576.69 1670.74 L578.01 1671.43 L579.34 1672.1 L580.68 1672.75 L582.03 1673.38 L583.39 1673.98 L584.76 1674.56 L586.14 1675.12 L587.53 1675.66 L588.93 1676.18 L590.34 1676.67 L591.75 1677.15 L593.18 1677.6 L594.61 1678.03 L596.05 1678.44 L597.5 1678.83 L598.96 1679.21 L600.42 1679.56 L601.89 1679.89 L603.36 1680.21 L604.84 1680.51 L606.33 1680.79 L607.82 1680.9 L609.32 1680.9 L610.82 1680.9 L612.33 1680.9 L613.84 1680.9 L615.36 1680.9 L616.88 1680.9 L618.4 1680.9 L619.93 1680.9 L621.45 1680.9 L622.99 1680.9 L624.52 1680.9 L626.05 1680.9 L627.59 1680.9 L629.13 1680.9 L630.67 1680.9 L632.21 1680.9 L633.75 1680.9 L635.29 1680.9 L636.83 1680.9 L638.37 1680.9 L639.91 1680.9 L641.45 1680.9 L642.99 1680.9 L644.52 1680.9 L646.06 1680.9 L647.59 1680.9 L649.12 1680.9 L650.65 1680.9 L652.17 1680.9 L653.69 1680.9 L655.21 1680.9 L656.72 1680.9 L658.23 1680.9 L659.73 1680.9 L661.23 1680.9 L662.73 1680.9 L664.22 1680.9 L665.7 1680.9 L667.18 1680.84 L668.65 1680.65 L670.11 1680.46" stroke="#000000" stroke-width="2" fill="none" stroke-linejoin="round" stroke-dasharray="13.4 8.4"/>
</g>
<path d="M78 1451.7 H119.6" stroke="#00e000" stroke-width="2.1"/>
<text x="123.4" y="1457.7" font-size="17.6" text-anchor="start">EKS</text>
<path d="M78 1471.3 H119.6" stroke="#0000e0" stroke-width="2.1"/>
<text x="123.4" y="1477.3" font-size="17.6" text-anchor="start">CKS</text>
<path d="M78 1490.3 H119.6" stroke="#e00000" stroke-width="2.1"/>
<text x="123.4" y="1496.3" font-size="17.6" text-anchor="start">CNCKS</text>
<path d="M78 1509.4 H119.6" stroke="#000000" stroke-width="2.1"/>
<text x="123.4" y="1515.4" font-size="17.6" text-anchor="start">CN2CKS</text>
<path d="M533.5 1265.2 h14.1 M555.4 1265.2 H569.5" stroke="#00e000" stroke-width="2.1"/>
<text x="579" y="1271.2" font-size="17.6" text-anchor="start">EKF</text>
<path d="M533.5 1284.4 h14.1 M555.4 1284.4 H569.5" stroke="#0000e0" stroke-width="2.1"/>
<text x="579" y="1290.4" font-size="17.6" text-anchor="start">CKF</text>
<path d="M533.5 1303.5 h14.1 M555.4 1303.5 H569.5" stroke="#e00000" stroke-width="2.1"/>
<text x="579" y="1309.5" font-size="17.6" text-anchor="start">CNCKF</text>
<path d="M533.5 1322.9 h14.1 M555.4 1322.9 H569.5" stroke="#000000" stroke-width="2.1"/>
<text x="579" y="1328.9" font-size="17.6" text-anchor="start">CN2CKF</text>
<text x="252.74" y="581.3" font-family="Liberation Serif, serif" font-size="36.5" textLength="13.1" lengthAdjust="spacingAndGlyphs" style="stroke:none">(</text>
<text x="266.48" y="580.8" font-family="Liberation Serif, serif" font-size="32.5" textLength="19.1" lengthAdjust="spacingAndGlyphs" style="stroke:none">a</text>
<text x="285.24" y="581.3" font-family="Liberation Serif, serif" font-size="36.5" textLength="11.67" lengthAdjust="spacingAndGlyphs" style="stroke:none">)</text>
<text x="314.2" y="580.8" font-family="Liberation Serif, serif" font-size="32.5" textLength="125.9" lengthAdjust="spacingAndGlyphs" style="stroke:none">position</text>
<text x="253.94" y="1193.8" font-family="Liberation Serif, serif" font-size="36.5" textLength="13.1" lengthAdjust="spacingAndGlyphs" style="stroke:none">(</text>
<text x="268.14" y="1193.3" font-family="Liberation Serif, serif" font-size="32.5" textLength="18.92" lengthAdjust="spacingAndGlyphs" style="stroke:none">b</text>
<text x="288.77" y="1193.8" font-family="Liberation Serif, serif" font-size="36.5" textLength="11.31" lengthAdjust="spacingAndGlyphs" style="stroke:none">)</text>
<text x="318.3" y="1193.3" font-family="Liberation Serif, serif" font-size="32.5" textLength="120.56" lengthAdjust="spacingAndGlyphs" style="stroke:none">velocity</text>
<text x="237.83" y="1809.7" font-family="Liberation Serif, serif" font-size="36.5" textLength="12.56" lengthAdjust="spacingAndGlyphs" style="stroke:none">(</text>
<text x="251.12" y="1809.2" font-family="Liberation Serif, serif" font-size="32.5" textLength="17.08" lengthAdjust="spacingAndGlyphs" style="stroke:none">c</text>
<text x="268.57" y="1809.7" font-family="Liberation Serif, serif" font-size="36.5" textLength="11.31" lengthAdjust="spacingAndGlyphs" style="stroke:none">)</text>
<text x="296.24" y="1809.2" font-family="Liberation Serif, serif" font-size="32.5" textLength="65.91" lengthAdjust="spacingAndGlyphs" style="stroke:none">turn</text>
<text x="369.83" y="1809.2" font-family="Liberation Serif, serif" font-size="32.5" textLength="71.6" lengthAdjust="spacingAndGlyphs" style="stroke:none">rate</text>
</svg>
</body></html>
